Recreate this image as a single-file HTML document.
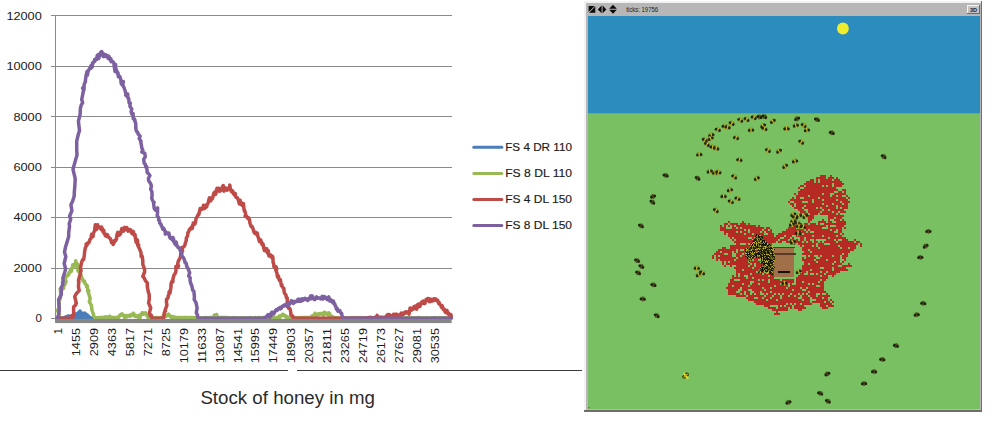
<!DOCTYPE html>
<html><head><meta charset="utf-8"><title>Stock of honey</title>
<style>
html,body{margin:0;padding:0;background:#fff;}
body{width:999px;height:423px;overflow:hidden;font-family:"Liberation Sans",sans-serif;}
svg{display:block;font-family:"Liberation Sans",sans-serif;}
</style></head><body>
<svg width="999" height="423" viewBox="0 0 999 423">
<rect width="999" height="423" fill="#fff"/>
<!-- chart -->
<g stroke="#8a8a8a" stroke-width="1" shape-rendering="crispEdges"><line x1="51" x2="451.6" y1="268.5" y2="268.5"/><line x1="51" x2="451.6" y1="217.5" y2="217.5"/><line x1="51" x2="451.6" y1="167.5" y2="167.5"/><line x1="51" x2="451.6" y1="116.5" y2="116.5"/><line x1="51" x2="451.6" y1="66.5" y2="66.5"/><line x1="51" x2="451.6" y1="15.5" y2="15.5"/>
<line x1="55.5" x2="55.5" y1="15" y2="323"/>
<line x1="51" x2="56" y1="318.5" y2="318.5"/>
</g>
<g fill="none" stroke-linejoin="round" stroke-linecap="round" stroke-width="3.5">
<polygon fill="#4a7ebb" stroke="#4a7ebb" stroke-width="1.5" points="65,318.5 68,317.2 71,317 73.5,315.8 76,314 78.5,312.6 80,312 81.5,312.8 83,313 85,314 87,315.8 89,317.2 91,318.5"/><polyline stroke="#4a7ebb" points="57.2,318.1 57.5,318.2 58.0,317.9 58.5,318.1 59.0,318.1 59.5,317.9 60.0,317.9 60.5,317.9 61.0,317.9 61.5,318.1 62.0,318.1 62.5,318.1 63.0,317.9 63.5,317.8 64.0,318.1 64.5,317.9 65.0,317.7 65.6,318.3 66.0,316.7 66.4,317.4 67.0,317.3 67.5,316.8 68.0,315.9 68.4,316.0 69.0,315.9 69.5,316.6 70.0,316.5 70.5,317.3 70.9,316.3 71.5,316.6 72.0,317.0 72.6,315.9 73.1,315.1 73.5,316.2 73.9,316.2 74.6,315.3 75.0,315.2 75.5,314.3 76.0,314.5 76.6,313.8 76.9,313.9 77.4,314.6 78.0,313.4 78.5,313.8 78.9,312.2 79.4,312.0 80.0,311.0 80.6,312.1 81.1,312.9 81.6,313.0 82.1,313.1 82.4,314.6 82.9,315.3 83.5,313.3 83.9,314.6 84.5,313.1 85.0,313.2 85.4,314.3 86.0,314.9 86.3,314.5 86.9,314.7 87.7,315.7 87.9,315.8 88.5,316.1 89.1,317.2 89.5,317.9 90.0,317.6 90.5,317.8 91.0,318.0 91.5,318.0 92.0,318.0 92.5,317.9 93.0,318.1 93.5,318.1 94.0,318.1 94.5,318.1 95.0,318.2"/>
<polyline stroke="#98b954" points="57.2,318.2 57.5,317.4 59.5,314.5 57.2,310.4 59.2,308.0 59.0,301.0 60.2,298.8 60.5,297.4 60.7,293.0 60.2,289.2 62.4,288.3 63.0,288.4 63.5,288.5 63.7,286.3 64.4,285.2 66.1,281.8 65.3,279.0 66.2,276.5 66.5,275.7 67.4,275.7 68.1,275.6 68.9,272.9 69.1,273.7 69.6,272.5 70.3,270.4 70.9,269.0 71.3,271.3 71.8,269.3 72.7,266.2 72.7,264.7 73.5,267.2 73.9,264.8 74.5,265.4 75.4,266.0 75.7,260.8 76.3,264.3 77.3,264.9 77.5,263.9 77.8,265.1 78.1,268.5 77.8,270.4 79.1,272.1 79.8,272.1 80.9,275.0 81.4,277.0 81.4,278.4 82.4,278.5 82.7,280.1 83.8,281.6 84.4,281.0 84.7,282.1 84.8,283.3 86.3,284.7 86.5,286.7 87.2,285.7 87.5,288.0 87.7,291.3 88.8,290.7 88.4,292.4 90.0,297.9 90.1,299.1 89.3,301.6 91.5,305.5 91.6,307.8 91.9,310.0 92.7,312.3 93.6,314.6 93.6,315.7 94.2,316.9 94.9,317.7 95.5,317.7 96.0,317.8 96.6,317.7 97.1,317.7 97.7,317.7 98.2,317.6 98.8,317.6 99.3,317.6 99.9,317.5 100.4,317.6 101.0,317.7 101.5,317.7 102.1,317.6 102.6,317.3 103.2,317.6 103.7,317.6 104.3,317.3 104.8,317.3 105.5,316.8 105.9,317.4 106.5,317.0 107.0,317.7 107.7,317.1 108.1,316.8 108.7,316.8 109.2,318.0 109.8,316.2 110.4,317.7 110.9,318.3 111.4,317.4 112.0,317.6 112.5,317.5 113.1,317.5 113.6,317.6 114.2,317.5 114.7,317.5 115.3,317.6 115.8,317.5 116.4,317.6 116.9,317.5 117.6,317.7 118.1,318.3 118.6,317.2 119.3,315.8 119.6,315.5 120.3,315.7 120.8,314.5 121.2,314.8 122.0,313.9 122.5,314.5 123.0,315.2 123.6,315.4 124.1,316.4 124.7,317.6 125.2,316.9 125.7,315.6 126.3,316.6 126.8,317.0 127.4,315.5 127.9,316.3 128.5,315.6 129.0,315.5 129.5,315.2 130.1,316.3 130.7,315.0 131.4,314.5 132.0,314.8 132.2,315.5 133.0,315.6 133.4,313.2 134.0,314.2 134.5,314.7 135.1,315.7 135.6,316.5 136.3,315.5 136.9,316.0 137.3,316.0 137.9,316.4 138.4,317.7 139.0,316.4 139.6,315.0 140.0,317.6 140.5,315.0 141.1,314.3 141.7,314.3 142.2,312.7 142.8,313.8 143.1,314.4 143.9,313.2 144.3,313.5 144.8,313.9 145.5,312.8 146.1,314.7 146.7,314.5 147.1,314.7 147.5,316.5 148.3,317.9 148.8,317.3 149.4,317.6 149.9,317.8 150.5,317.7 151.0,317.7 151.6,317.8 152.1,317.8 152.7,317.7 153.2,317.8 153.8,317.9 154.3,317.7 154.9,317.7 155.4,317.7 156.0,317.6 156.5,317.6 157.1,317.5 157.6,317.7 158.2,317.7 158.7,317.7 159.3,317.8 159.8,317.7 160.4,317.7 160.9,317.5 161.5,317.5 162.0,317.7 162.6,317.6 163.1,317.4 163.6,315.3 164.2,316.6 164.9,315.8 165.4,316.5 166.0,316.3 166.4,315.3 166.9,315.0 167.6,315.5 168.1,315.0 168.8,314.2 169.2,315.4 169.8,315.7 170.3,315.9 170.9,317.1 171.4,317.3 172.0,318.0 172.5,317.2 173.0,316.6 173.6,316.7 174.2,317.5 174.7,317.3 175.2,317.3 175.8,317.4 176.3,317.4 176.9,317.5 177.4,317.7 178.0,317.6 178.5,317.5 179.1,317.5 179.6,317.5 180.2,317.5 180.7,317.7 181.3,317.6 181.8,317.7 182.4,317.7 182.9,317.5 183.5,317.5 184.0,317.5 184.6,317.4 185.1,317.6 185.7,317.6 186.2,317.6 186.8,317.5 187.3,317.6 187.9,317.6 188.4,317.8 189.0,317.7 189.5,317.6 190.1,317.7 190.6,317.6 191.2,317.6 191.7,317.6 192.3,317.7 192.8,317.6 193.4,317.6 193.9,317.7 194.5,317.7 195.0,317.6 195.6,317.6 196.1,317.6 196.7,317.6 197.2,317.8 197.8,317.8 198.3,317.8 198.9,317.7 199.4,317.8 200.0,317.8 200.5,317.7 201.1,317.7 201.6,318.0 202.2,317.8 202.7,317.7 203.3,317.8 203.8,317.8 204.4,317.7 204.9,317.8 205.5,317.6 206.0,317.6 206.6,317.5 207.1,317.8 207.7,317.7 208.2,317.9 208.8,317.8 209.3,317.7 209.9,317.6 210.4,317.5 211.0,317.5 211.5,317.7 212.1,317.5 212.6,317.3 213.2,317.3 213.7,317.6 214.3,315.1 214.9,314.9 215.4,315.2 216.1,315.9 216.6,314.5 217.0,316.1 217.6,317.5 218.1,317.7 218.7,317.6 219.2,317.5 219.8,317.6 220.3,317.7 220.9,317.5 221.4,317.4 222.0,317.5 222.5,317.6 223.1,317.6 223.6,317.4 224.2,317.4 224.7,317.6 225.3,317.7 225.8,317.6 226.4,317.6 226.9,317.9 227.5,317.7 228.0,317.6 228.6,317.6 229.1,317.7 229.7,317.7 230.2,317.7 230.8,317.7 231.3,317.7 231.9,317.8 232.4,317.7 233.0,317.8 233.5,317.6 234.1,317.8 234.6,317.8 235.2,317.8 235.7,318.0 236.3,317.8 236.8,317.7 237.4,317.8 237.9,317.9 238.5,318.0 239.0,317.9 239.6,317.9 240.1,318.0 240.7,317.9 241.2,317.7 241.8,317.7 242.3,317.7 242.9,317.8 243.4,317.7 244.0,317.9 244.5,317.8 245.1,317.9 245.6,317.8 246.2,317.9 246.7,317.8 247.3,317.9 247.8,318.0 248.4,318.0 248.9,317.9 249.5,317.7 250.0,317.6 250.6,317.4 251.1,317.8 251.7,317.9 252.2,317.9 252.8,317.7 253.3,318.0 253.9,317.8 254.4,317.8 255.0,317.6 255.5,317.6 256.1,317.8 256.6,317.9 257.2,317.7 257.7,317.7 258.3,317.8 258.8,317.6 259.4,317.7 259.9,317.6 260.5,317.7 261.0,317.7 261.6,317.8 262.1,317.7 262.7,317.6 263.2,317.6 263.8,317.6 264.3,317.6 264.9,317.6 265.4,317.6 266.0,317.7 266.5,317.7 267.1,317.7 267.6,317.8 268.2,317.8 268.7,317.6 269.3,317.6 269.8,317.8 270.4,317.8 270.9,317.8 271.5,317.8 272.0,317.5 272.6,317.6 273.1,317.7 273.7,317.6 274.2,317.5 274.8,317.6 275.3,317.6 275.9,317.8 276.4,317.8 277.0,317.6 277.5,317.5 278.1,317.4 278.5,316.9 279.0,316.2 279.7,318.1 280.3,315.8 280.9,315.4 281.5,315.7 281.9,315.8 282.5,314.3 283.1,314.3 283.6,314.9 284.3,315.6 284.8,315.3 285.3,315.7 285.8,316.8 286.4,318.3 286.9,316.6 287.4,317.4 288.0,318.3 288.5,317.4 289.1,317.7 289.6,317.9 290.2,317.9 290.7,317.9 291.3,318.0 291.8,317.8 292.4,317.8 292.9,317.7 293.5,317.7 294.0,317.8 294.6,317.8 295.1,317.9 295.7,317.8 296.2,317.6 296.8,317.8 297.3,317.9 297.9,317.8 298.4,317.7 299.0,317.6 299.5,317.6 300.1,317.8 300.6,317.8 301.2,317.7 301.7,317.7 302.3,317.7 302.8,317.6 303.4,317.6 303.9,317.6 304.5,317.5 305.0,317.5 305.6,317.4 306.1,317.5 306.7,317.7 307.2,317.5 307.8,317.5 308.3,317.4 308.9,317.5 309.4,317.5 310.0,317.5 310.5,317.2 311.1,318.3 311.6,317.4 312.1,315.8 312.8,315.5 313.2,316.5 313.9,316.8 314.4,315.9 315.0,313.3 315.5,315.0 316.0,315.9 316.6,315.4 317.1,314.7 317.7,314.0 318.3,314.8 318.8,313.9 319.3,314.7 319.9,313.8 320.4,313.5 321.0,313.5 321.6,313.5 322.1,313.5 322.7,314.5 323.1,315.6 323.7,313.5 324.3,312.2 324.8,314.1 325.4,313.2 326.0,313.1 326.6,313.4 327.1,314.4 327.5,313.3 328.2,314.8 328.6,315.5 329.2,312.9 329.7,314.3 330.4,315.2 330.9,316.3 331.5,316.6 332.0,316.3 332.5,316.5 333.1,317.4 333.6,317.3 334.2,317.4 334.7,317.8 335.3,317.8 335.8,317.7 336.4,317.8 336.9,317.8 337.5,317.7 338.0,317.8 338.6,317.7 339.1,317.6 339.7,317.8 340.2,317.9 340.8,317.9 341.3,317.8 341.9,317.7 342.4,317.8 343.0,317.8 343.5,317.9 344.1,318.0 344.6,317.9 345.2,317.8 345.7,317.8 346.3,317.7 346.8,317.8 347.4,317.9 347.9,317.9 348.5,317.9 349.0,318.0 349.6,317.8 350.1,317.8 350.7,317.8 351.2,317.8 351.8,317.6 352.3,317.7 352.9,317.6 353.4,317.7 354.0,317.7 354.5,317.8 355.1,317.6 355.6,317.7 356.2,317.8 356.7,317.6 357.3,317.9 357.8,317.9 358.4,317.7 358.9,317.9 359.5,318.0 360.0,317.6 360.6,317.7 361.1,317.7 361.7,317.8 362.2,317.7 362.8,317.7 363.3,317.8 363.9,317.6 364.4,317.7 365.0,317.9 365.5,317.9 366.1,317.9 366.6,318.0 367.2,317.9 367.7,317.8 368.3,317.8 368.8,317.8 369.4,318.0 369.9,317.9 370.5,317.9 371.0,317.9 371.6,318.0 372.1,317.7 372.7,317.7 373.2,317.8 373.8,317.9 374.3,317.7 374.9,317.6 375.4,317.8 376.0,317.9 376.5,317.8 377.1,317.8 377.6,317.7 378.2,317.7 378.7,317.7 379.3,317.8 379.8,317.8 380.4,317.9 380.9,317.7 381.5,317.6 382.0,317.8 382.6,317.7 383.1,317.7 383.7,317.8 384.2,317.7 384.8,317.6 385.3,317.8 385.9,317.5 386.4,317.8 387.0,317.6 387.5,317.8 388.1,317.8 388.6,317.8 389.2,317.8 389.7,317.8 390.3,317.7 390.8,317.8 391.4,317.8 391.9,317.8 392.5,317.8 393.0,317.8 393.6,317.9 394.1,317.9 394.7,317.8 395.2,317.7 395.8,317.7 396.3,317.7 396.9,317.9 397.4,317.9 398.0,317.8 398.5,317.8 399.1,317.7 399.6,317.8 400.2,317.7 400.7,317.7 401.3,317.8 401.8,317.9 402.4,317.8 402.9,317.7 403.5,317.6 404.0,317.8 404.6,317.9 405.1,318.0 405.7,317.8 406.2,317.8 406.8,317.7 407.3,317.9 407.9,317.7 408.4,317.8 409.0,318.0 409.5,317.8 410.1,317.6 410.6,317.7 411.2,317.6 411.7,317.8 412.3,317.8 412.8,317.7 413.4,317.7 413.9,317.9 414.5,317.8 415.0,317.8 415.6,318.0 416.1,317.8 416.7,317.7 417.2,317.9 417.8,317.9 418.3,317.6 418.9,317.6 419.4,317.6 420.0,317.7 420.5,317.8 421.1,317.7 421.6,317.9 422.2,318.0 422.7,317.9 423.3,317.8 423.8,317.8 424.4,317.9 424.9,317.9 425.5,318.0 426.0,317.6 426.6,317.7 427.1,317.7 427.7,317.7 428.2,317.8 428.8,318.0 429.3,317.9 429.9,317.9 430.4,317.8 431.0,317.8 431.5,318.0 432.1,317.8 432.6,317.8 433.2,318.0 433.7,318.2 434.3,317.9 434.8,317.7 435.4,317.6 435.9,317.7 436.5,317.8 437.0,317.8 437.6,317.9 438.1,317.8 438.7,317.8 439.2,317.6 439.8,317.7 440.3,317.8 440.9,317.6 441.4,317.7 442.0,317.9 442.5,317.8 443.1,317.8 443.6,317.8 444.2,317.7 444.7,317.8 445.3,317.7 445.8,317.8 446.4,317.8 446.9,317.8 447.5,317.7 448.0,317.7 448.6,318.0 449.1,317.9 449.7,317.8 450.2,317.7 450.8,317.9 451.3,317.8"/>
<polyline stroke="#be4b48" points="57.2,318.3 57.5,318.3 58.1,318.3 58.6,318.1 59.2,318.3 59.7,318.1 60.3,318.3 60.8,318.3 61.4,318.3 61.9,318.3 62.5,318.3 63.0,318.3 63.6,318.3 64.1,318.3 64.7,318.3 65.2,318.3 65.8,318.2 66.3,318.2 66.9,318.3 67.4,318.3 68.0,318.3 68.5,318.3 69.1,318.2 69.6,318.3 70.2,318.2 70.7,318.3 71.3,318.3 71.8,317.7 71.9,315.5 73.5,316.8 73.6,312.1 73.6,307.0 75.7,305.0 75.4,304.9 76.3,303.1 74.7,296.5 76.2,293.8 79.2,290.6 78.4,286.4 78.9,281.3 78.4,280.8 79.4,276.6 80.4,274.0 80.6,271.5 81.1,270.8 80.4,268.0 81.7,262.1 82.6,259.7 83.7,259.6 84.3,255.0 84.5,252.9 84.6,251.9 85.3,248.0 86.3,246.0 86.1,244.0 87.2,244.7 87.7,243.0 88.3,243.2 89.4,241.7 89.4,240.7 90.3,238.9 91.0,238.5 91.2,236.8 91.6,234.3 91.9,235.9 93.1,235.9 93.0,236.6 93.4,233.2 94.6,230.8 94.8,228.9 95.3,224.7 96.0,226.5 96.4,229.7 96.9,228.3 97.7,224.8 98.3,227.8 98.8,227.3 99.3,227.1 99.9,227.4 100.4,228.1 101.1,229.3 101.6,226.9 102.0,228.4 102.7,229.3 103.0,231.9 103.8,230.3 104.1,233.4 104.8,234.1 105.3,235.8 105.4,233.9 106.6,235.6 107.0,236.5 107.4,234.6 108.0,236.2 108.7,237.4 109.2,237.6 109.9,238.5 110.4,238.7 111.0,240.5 111.5,242.7 111.8,242.1 112.4,241.1 113.1,244.5 113.7,243.2 114.2,242.3 114.5,241.4 115.1,240.1 115.6,240.7 116.6,238.7 116.6,237.6 117.0,234.6 117.8,232.3 118.7,232.6 119.5,235.2 119.6,233.3 120.5,234.0 120.7,232.2 121.3,230.7 121.8,228.6 122.5,228.6 123.0,231.2 123.6,231.1 124.1,228.2 124.7,227.4 125.2,229.8 125.8,228.0 126.3,229.1 126.9,227.6 127.4,228.9 128.0,231.1 128.5,230.9 129.0,229.9 129.6,229.7 130.2,229.5 130.6,230.1 131.2,232.4 132.2,233.6 132.3,233.3 132.8,231.3 133.6,232.1 133.7,234.6 134.9,235.7 135.1,234.7 135.3,237.7 136.2,242.3 136.5,239.2 137.6,240.5 137.6,245.0 138.8,244.9 138.0,245.8 139.3,248.4 140.4,251.0 141.0,252.6 141.2,256.6 142.2,256.3 142.8,260.8 142.8,264.3 143.5,266.3 144.6,269.4 144.6,272.0 142.8,276.4 144.2,278.0 145.5,280.9 147.3,282.9 147.3,286.7 148.3,291.8 149.2,294.8 149.3,299.1 148.6,303.0 150.7,307.8 149.4,312.9 150.4,315.9 151.4,315.3 152.1,318.2 152.7,318.3 153.2,318.3 153.8,318.3 154.3,318.2 154.9,318.2 155.4,318.3 156.0,318.3 156.5,318.3 157.1,318.3 157.6,318.3 158.2,318.2 158.7,318.3 159.3,318.3 159.8,318.3 160.4,318.3 160.9,318.1 161.5,318.2 162.0,318.3 162.6,318.3 163.4,318.3 163.9,316.2 164.3,312.6 165.5,311.0 164.9,310.7 166.9,305.4 166.5,302.3 166.5,299.4 167.8,298.2 168.2,296.7 168.2,295.7 170.2,292.4 168.8,292.5 170.4,290.4 171.0,286.9 171.0,284.0 171.9,281.4 173.1,281.2 172.5,282.2 173.0,278.7 174.0,275.0 174.9,273.9 175.8,272.0 176.0,269.6 175.8,266.4 177.4,266.4 177.8,267.3 178.5,266.0 177.7,263.9 178.3,261.1 179.3,259.3 179.9,258.3 180.7,255.5 180.7,253.7 181.3,251.3 182.6,251.2 182.0,247.5 183.0,247.1 184.0,246.6 184.9,245.1 185.2,243.4 186.3,240.3 186.3,238.2 187.0,237.0 187.6,235.8 187.9,233.5 187.9,232.6 188.9,231.4 189.4,229.5 189.8,229.8 190.8,227.9 191.0,227.6 191.3,228.7 192.3,228.5 192.5,225.2 193.5,224.7 193.2,223.0 194.0,224.6 195.0,223.7 195.6,221.5 196.1,218.5 197.1,216.7 197.2,216.8 197.7,215.6 198.5,214.1 198.8,214.5 199.5,211.5 200.2,208.5 200.5,208.9 201.1,208.6 201.5,209.4 202.2,208.2 202.8,208.1 203.5,205.2 203.9,208.7 204.7,208.4 205.0,205.4 205.5,205.9 206.0,207.3 206.8,206.6 207.1,204.2 207.6,203.9 207.9,203.8 208.8,200.1 209.5,197.7 209.3,198.0 210.2,200.0 210.8,200.8 211.4,198.3 212.1,198.9 212.6,198.2 213.2,195.6 213.8,193.3 214.5,192.3 214.8,192.8 215.4,194.5 215.9,193.8 216.5,189.8 217.0,188.3 217.5,191.0 218.2,190.8 218.8,188.2 219.1,189.6 219.8,191.2 220.3,190.4 220.8,188.8 221.6,190.0 222.1,187.9 222.6,186.3 223.2,185.5 223.6,189.4 224.0,191.1 224.7,187.7 225.3,187.7 225.8,188.2 226.4,189.2 227.0,190.2 227.6,189.9 228.0,188.7 228.5,188.0 229.4,187.3 229.8,185.1 230.3,188.6 230.6,189.5 231.1,190.9 231.5,191.7 232.4,190.7 233.0,191.5 233.5,193.8 234.1,194.4 234.7,193.4 235.3,193.6 235.4,196.3 236.1,197.2 237.0,197.8 237.4,197.8 238.0,199.5 238.3,199.8 239.3,203.8 239.6,201.4 240.1,200.2 240.5,204.3 241.3,203.8 241.8,203.0 242.3,205.6 243.4,203.5 243.8,207.2 244.0,209.3 244.3,210.9 244.9,211.0 245.8,214.9 245.1,216.1 246.9,216.5 247.2,218.0 248.5,217.7 248.5,219.1 248.9,218.7 249.5,219.7 249.9,222.9 250.4,224.5 251.1,226.4 251.2,225.8 252.3,226.8 252.4,227.3 253.2,229.2 253.7,231.4 254.6,233.1 255.4,233.5 255.9,232.4 256.0,234.1 256.6,233.9 257.2,233.0 257.8,236.3 258.6,238.2 259.0,240.0 259.4,241.4 260.4,239.7 260.7,240.0 261.5,242.2 261.6,243.6 262.3,244.9 262.8,243.7 263.3,245.1 263.6,247.6 264.4,250.5 264.6,247.9 265.5,250.8 266.3,250.5 266.8,248.8 267.2,252.5 267.6,251.5 268.4,250.9 268.5,254.0 269.0,256.1 269.5,256.0 270.5,255.4 270.6,255.0 271.7,257.6 272.3,256.2 272.9,257.3 273.1,262.4 273.9,264.5 273.8,266.6 274.9,267.4 276.1,266.9 276.6,269.9 275.7,269.6 277.0,273.3 277.4,276.9 278.5,276.1 278.8,278.7 279.2,279.8 279.5,280.5 280.4,279.7 280.8,282.3 281.4,285.6 281.9,284.5 282.0,286.2 283.2,287.9 283.8,288.2 284.2,292.2 284.8,293.6 285.8,294.7 286.4,297.6 287.2,297.9 287.3,303.4 287.9,302.9 288.0,302.5 288.0,306.0 288.5,308.2 289.9,308.5 290.3,309.9 290.9,313.4 290.7,314.5 291.8,315.3 292.4,316.7 292.9,316.1 293.4,318.2 294.0,317.9 294.6,318.3 295.1,318.2 295.7,318.3 296.2,318.3 296.8,318.3 297.3,318.3 297.9,318.3 298.4,318.3 299.0,318.3 299.5,318.3 300.1,318.3 300.6,318.1 301.2,318.1 301.7,318.3 302.3,318.3 302.8,318.3 303.4,318.3 303.9,318.3 304.5,318.3 305.0,318.3 305.6,318.3 306.1,318.3 306.7,318.3 307.2,318.3 307.8,318.3 308.3,318.3 308.9,318.3 309.4,318.2 310.0,318.3 310.5,318.2 311.1,318.2 311.6,318.3 312.2,318.3 312.7,318.3 313.3,318.3 313.8,318.3 314.4,318.3 314.9,318.3 315.5,318.3 316.0,318.3 316.6,318.1 317.1,318.1 317.7,318.3 318.2,318.2 318.8,318.2 319.3,318.2 319.9,318.3 320.4,318.2 321.0,318.3 321.5,318.3 322.1,318.3 322.6,318.2 323.2,318.2 323.7,318.1 324.3,318.3 324.8,318.3 325.4,318.2 325.9,318.2 326.5,318.3 327.0,318.3 327.6,318.3 328.1,318.3 328.7,318.3 329.2,318.3 329.8,318.3 330.3,318.2 330.9,318.3 331.4,318.3 332.0,318.3 332.5,318.3 333.1,318.2 333.6,318.3 334.2,318.3 334.7,318.3 335.3,318.0 335.8,318.3 336.4,318.3 336.9,318.2 337.5,318.2 338.0,318.2 338.6,318.2 339.1,318.3 339.7,318.2 340.2,318.3 340.8,318.2 341.3,318.3 341.9,318.3 342.4,318.3 343.0,318.3 343.5,318.3 344.1,318.3 344.6,318.3 345.2,318.2 345.7,318.3 346.3,318.3 346.8,318.3 347.4,318.3 347.9,318.3 348.5,318.2 349.0,318.3 349.6,318.3 350.1,318.3 350.7,318.3 351.2,318.3 351.8,318.1 352.3,318.2 352.9,318.2 353.4,318.3 354.0,318.3 354.5,318.2 355.1,318.3 355.6,318.2 356.2,318.1 356.7,318.2 357.3,318.3 357.8,318.3 358.4,318.3 358.9,318.3 359.5,318.3 360.0,318.3 360.6,318.2 361.1,318.3 361.7,318.3 362.2,318.3 362.8,318.3 363.3,318.3 363.9,318.3 364.4,318.3 365.0,318.3 365.5,318.1 366.1,318.0 366.6,318.0 367.2,317.9 367.7,317.7 368.3,317.7 368.8,317.5 369.4,317.5 369.9,317.3 370.5,317.4 371.0,317.4 371.6,317.6 372.1,317.7 372.7,318.0 373.2,317.9 373.8,317.9 374.3,317.7 374.9,317.4 375.4,317.4 376.0,318.0 376.6,316.6 377.1,315.4 377.6,317.2 378.2,318.2 378.7,318.1 379.3,317.4 379.8,317.1 380.5,318.3 380.9,318.3 381.5,317.3 382.0,317.3 382.6,317.6 383.1,317.7 383.7,317.4 384.2,317.3 384.8,317.9 385.4,317.2 385.9,317.7 386.4,316.1 387.0,315.4 387.6,314.6 388.1,315.9 388.6,316.1 389.2,314.5 389.7,315.8 390.3,315.7 390.8,315.6 391.4,317.2 391.9,317.3 392.5,316.6 393.1,315.4 393.6,314.2 394.1,314.3 394.7,314.6 395.2,316.3 395.8,314.6 396.4,314.1 396.9,314.8 397.5,315.3 398.0,316.1 398.6,316.5 399.1,315.1 399.7,316.5 400.3,316.0 400.8,313.9 401.3,313.0 401.9,313.4 402.4,313.6 403.0,314.6 403.5,313.3 404.1,312.8 404.6,312.4 405.1,313.3 405.7,311.9 406.2,313.0 406.6,312.1 407.1,311.8 407.8,312.3 408.4,312.1 408.9,314.2 409.7,311.1 410.0,308.1 410.5,308.1 411.4,310.2 411.6,308.7 412.4,309.7 412.8,308.8 413.1,308.9 414.1,306.5 414.5,307.9 415.1,308.6 415.6,306.0 416.2,307.3 416.8,309.2 417.4,306.7 417.8,304.4 418.3,304.1 419.0,304.3 419.5,305.5 419.8,306.6 420.6,304.3 421.1,303.4 421.6,302.0 422.1,302.2 422.9,303.3 423.3,300.9 423.8,302.5 424.4,303.5 424.9,303.6 425.5,301.6 426.1,299.6 426.6,300.3 427.1,299.7 427.7,298.5 428.3,299.1 428.8,298.6 429.3,301.7 429.9,301.6 430.5,301.3 431.0,299.2 431.5,301.1 432.1,300.3 432.6,300.9 433.2,299.4 433.8,300.4 434.3,298.7 434.9,299.5 435.4,300.1 436.0,299.0 436.5,300.1 437.0,300.2 437.6,300.2 438.0,301.6 438.5,303.1 439.1,302.4 439.6,304.2 440.5,305.2 440.8,305.5 441.4,307.3 442.0,305.5 443.1,308.3 443.2,309.4 443.8,308.8 444.3,309.3 444.9,311.1 445.3,312.3 445.9,312.5 446.6,310.9 447.0,310.4 447.3,312.2 447.9,313.8 448.6,313.1 449.2,314.6 449.6,315.3 450.4,315.4 450.9,314.5 451.3,316.6"/>
<polyline stroke="#7d60a0" points="57.2,318.3 57.5,317.8 58.2,316.2 59.2,311.5 59.0,305.6 58.6,299.6 61.2,294.7 61.5,288.7 61.0,288.1 62.8,284.7 62.5,282.7 63.1,282.0 62.9,278.1 64.9,271.7 65.6,268.9 64.2,263.5 65.8,256.5 64.5,252.2 65.6,246.7 66.8,242.9 68.7,236.5 68.7,232.9 69.5,226.2 69.2,223.7 70.7,219.1 69.6,216.2 71.9,210.8 70.9,204.7 72.7,201.0 74.2,196.0 74.3,192.7 74.9,185.1 75.2,178.7 73.0,169.3 75.1,161.6 77.0,154.9 76.7,150.0 76.7,141.2 78.4,134.0 79.5,130.5 78.4,121.1 80.1,114.5 80.4,108.4 81.3,104.9 82.7,102.8 81.7,99.5 83.2,92.2 84.0,86.3 82.6,88.3 84.0,89.7 84.2,84.0 85.4,81.9 85.4,80.6 86.1,75.3 87.0,71.6 87.2,74.2 87.4,75.3 88.1,70.9 88.7,70.5 89.1,69.2 90.3,67.4 91.1,65.5 90.8,68.3 92.3,66.7 92.3,64.6 92.4,63.1 92.9,63.6 93.6,61.7 94.7,61.4 94.7,59.3 95.3,60.1 96.2,59.1 96.5,59.6 97.2,55.9 97.4,55.3 98.3,54.5 98.7,58.5 99.3,56.2 99.8,55.4 100.5,52.6 100.8,52.6 101.6,51.5 102.2,53.5 102.7,52.8 103.2,56.4 103.8,54.0 104.4,56.1 104.9,55.7 105.3,56.5 106.1,54.8 106.6,55.7 106.9,56.5 107.5,55.9 108.1,58.4 108.8,56.2 109.4,57.7 109.9,59.1 110.2,60.1 110.9,58.7 111.2,61.8 112.0,61.0 112.3,61.3 113.0,61.7 113.9,63.2 114.1,65.7 115.0,71.4 115.6,64.4 115.6,67.9 116.9,71.1 117.2,73.1 117.3,72.3 118.0,72.9 118.3,76.7 119.3,76.0 119.9,76.5 120.1,77.6 120.8,79.6 121.2,83.5 121.3,81.2 121.8,84.5 123.3,81.5 122.8,85.5 123.9,87.2 125.2,91.0 125.5,92.8 126.3,94.0 125.7,95.2 127.2,96.3 127.7,94.0 127.9,98.0 128.7,98.3 129.1,102.9 130.4,103.2 129.9,105.0 130.0,106.5 131.8,109.1 131.1,111.6 131.9,114.1 133.1,113.5 133.2,118.8 133.5,118.3 135.0,120.1 134.1,118.7 135.8,123.8 135.8,128.6 136.5,131.3 137.7,132.4 138.1,134.0 138.5,134.3 140.1,136.1 139.2,138.6 141.0,141.3 140.7,141.8 141.2,144.2 141.9,148.2 142.9,150.4 141.8,152.0 144.7,153.1 145.3,156.6 143.7,159.3 144.2,163.4 145.3,164.2 145.8,167.1 146.7,166.9 147.2,172.7 147.7,172.7 149.9,175.5 148.4,178.5 148.7,180.8 150.7,183.8 151.4,186.0 150.7,189.1 151.9,191.9 152.1,195.5 151.7,198.4 153.0,201.4 154.1,202.3 153.5,202.5 154.2,208.4 155.4,210.1 157.6,207.9 157.5,213.1 157.2,216.0 157.8,216.5 158.7,217.7 158.6,220.0 159.5,220.6 159.6,222.9 160.5,223.9 161.2,224.5 161.3,226.1 162.2,227.0 162.8,229.3 163.1,229.3 163.3,227.9 164.2,229.3 165.4,232.6 165.3,234.1 165.7,231.8 166.6,233.2 166.9,233.2 167.4,233.6 168.2,232.9 168.9,233.0 169.3,235.2 169.7,237.2 170.4,238.3 170.7,237.5 171.2,238.3 172.3,239.6 172.5,240.1 173.0,237.5 173.6,239.1 174.0,241.9 174.8,243.7 174.8,242.8 175.9,245.1 176.2,242.1 177.0,246.1 177.7,246.5 178.0,247.3 178.3,247.4 179.2,247.6 179.7,249.3 180.7,251.1 180.5,251.1 181.9,254.0 181.7,254.6 182.1,255.9 182.0,256.4 183.3,257.5 184.3,259.6 184.4,259.7 185.1,262.8 186.1,262.9 186.7,265.4 186.5,266.0 187.8,267.9 188.3,269.4 189.7,272.8 188.6,276.0 188.6,275.9 190.2,277.9 190.0,280.0 190.5,282.8 191.8,285.8 192.5,289.1 192.7,290.3 193.8,291.1 194.4,296.2 194.2,299.5 196.1,302.9 197.1,308.1 196.3,312.6 197.6,315.1 197.4,316.5 197.8,317.1 198.3,318.0 198.9,318.1 199.4,318.3 200.0,318.3 200.5,318.3 201.1,318.3 201.6,318.2 202.2,318.3 202.7,318.3 203.3,318.3 203.8,318.3 204.4,318.1 204.9,318.3 205.5,318.3 206.0,318.3 206.6,318.3 207.1,318.2 207.7,318.2 208.2,318.2 208.8,318.3 209.3,318.3 209.9,318.3 210.4,318.3 211.0,318.1 211.5,318.2 212.1,318.3 212.6,318.3 213.2,318.3 213.7,318.2 214.3,318.2 214.8,318.3 215.4,318.3 215.9,318.3 216.5,318.3 217.0,318.2 217.6,318.3 218.1,318.3 218.7,318.1 219.2,318.2 219.8,318.3 220.3,318.3 220.9,318.2 221.4,318.3 222.0,318.3 222.5,318.3 223.1,318.3 223.6,318.2 224.2,318.1 224.7,318.2 225.3,318.3 225.8,318.3 226.4,318.3 226.9,318.3 227.5,318.3 228.0,318.3 228.6,318.3 229.1,318.3 229.7,318.2 230.2,318.2 230.8,318.2 231.3,318.2 231.9,318.3 232.4,318.3 233.0,318.3 233.5,318.1 234.1,318.3 234.6,318.3 235.2,318.2 235.7,318.3 236.3,318.3 236.8,318.3 237.4,318.1 237.9,318.1 238.5,318.3 239.0,318.2 239.6,318.2 240.1,318.2 240.7,318.3 241.2,318.3 241.8,318.3 242.3,318.3 242.9,318.3 243.4,318.3 244.0,318.3 244.5,318.3 245.1,318.3 245.6,318.3 246.2,318.2 246.7,318.1 247.3,318.2 247.8,318.3 248.4,318.1 248.9,318.1 249.5,318.3 250.0,318.3 250.6,318.3 251.1,318.2 251.7,318.3 252.2,318.3 252.8,318.3 253.3,318.2 253.9,318.3 254.4,318.3 255.0,318.3 255.5,318.3 256.1,318.1 256.6,318.2 257.2,318.3 257.7,318.3 258.3,318.3 258.8,318.3 259.4,318.3 259.9,318.3 260.5,318.3 261.0,318.3 261.6,318.3 262.1,318.2 262.7,318.2 263.2,318.2 263.8,318.0 264.3,317.8 264.9,317.5 265.5,318.2 266.0,317.3 266.6,316.4 267.1,316.2 267.7,315.0 268.4,314.8 268.9,314.5 269.2,315.4 269.7,317.2 270.5,315.8 271.0,316.0 271.3,313.3 271.8,312.2 272.5,312.2 273.0,313.1 273.7,314.0 274.4,312.9 274.7,311.8 275.3,311.1 276.0,309.9 276.5,310.4 277.0,310.5 277.5,309.8 278.2,308.5 278.6,308.8 279.3,308.7 279.9,307.6 280.2,309.0 281.0,308.2 281.4,308.2 281.9,306.5 282.7,306.3 283.1,306.0 283.7,305.3 284.0,306.0 284.7,305.9 285.2,304.5 285.7,304.4 286.3,305.0 286.9,304.9 287.4,306.4 288.1,302.8 288.6,304.1 289.0,304.8 289.6,304.2 290.2,302.7 290.7,302.1 291.3,300.7 291.8,302.4 292.5,302.1 292.9,301.5 293.4,303.5 294.0,301.5 294.6,301.3 295.2,302.1 295.7,301.4 296.2,301.5 296.8,301.4 297.4,301.3 297.8,299.7 298.4,299.0 299.1,301.2 299.6,301.3 300.1,300.3 300.6,299.4 301.2,301.2 301.7,300.1 302.3,298.7 302.8,300.4 303.4,299.0 304.0,298.8 304.6,299.4 305.1,298.3 305.6,299.1 306.1,299.6 306.7,299.8 307.3,299.1 307.8,300.5 308.3,299.5 308.9,298.4 309.5,299.0 310.0,298.4 310.6,296.0 311.1,298.8 311.7,297.2 312.2,295.8 312.7,298.0 313.3,297.7 313.9,299.0 314.4,299.6 314.9,299.5 315.5,298.2 316.1,298.2 316.6,296.8 317.1,298.2 317.7,298.1 318.3,297.7 318.8,298.0 319.4,298.0 319.9,298.3 320.4,298.8 321.0,298.0 321.5,297.3 322.1,296.4 322.7,299.1 323.2,299.0 323.8,297.9 324.3,296.5 324.9,298.3 325.4,297.4 325.9,298.3 326.5,298.3 327.1,299.6 327.6,298.9 328.2,297.9 328.8,296.9 329.2,298.2 329.8,301.1 330.3,300.8 330.9,299.8 331.9,301.5 331.8,300.9 332.6,302.4 333.4,301.3 333.4,301.1 334.0,303.9 334.5,303.4 335.3,305.9 336.0,306.7 336.3,309.1 337.0,308.3 337.2,308.5 337.8,311.1 338.3,310.5 339.2,311.1 339.8,310.5 340.2,312.1 340.7,312.9 341.6,313.4 342.1,315.9 342.4,317.2 343.0,318.3 343.5,318.2 344.1,318.3 344.6,318.3 345.2,318.2 345.7,318.3 346.3,318.2 346.8,318.2 347.4,318.2 347.9,318.3 348.5,318.2 349.0,318.3 349.6,318.2 350.1,318.3 350.7,318.3 351.2,318.3 351.8,318.2 352.3,318.2 352.9,318.3 353.4,318.3 354.0,318.2 354.5,318.3 355.1,318.3 355.6,318.2 356.2,318.3 356.7,318.3 357.3,318.2 357.8,318.2 358.4,318.3 358.9,318.3 359.5,318.3 360.0,318.2 360.6,318.3 361.1,318.3 361.7,318.3 362.2,318.3 362.8,318.3 363.3,318.3 363.9,318.2 364.4,318.2 365.0,318.3 365.5,318.2 366.1,318.3 366.6,318.2 367.2,318.3 367.7,318.3 368.3,318.3 368.8,318.3 369.4,318.3 369.9,318.2 370.5,318.3 371.0,318.3 371.6,318.2 372.1,318.2 372.7,318.3 373.2,318.3 373.8,318.3 374.3,318.3 374.9,318.3 375.4,318.3 376.0,318.3 376.5,318.3 377.1,318.3 377.6,318.3 378.2,318.2 378.7,318.3 379.3,318.3 379.8,318.3 380.4,318.3 380.9,318.3 381.5,318.3 382.0,318.2 382.6,318.3 383.1,318.3 383.7,318.2 384.2,318.2 384.8,318.2 385.3,318.2 385.9,318.2 386.4,318.2 387.0,318.2 387.5,318.3 388.1,318.2 388.6,318.3 389.2,318.3 389.7,318.3 390.3,318.2 390.8,318.2 391.4,318.3 391.9,318.3 392.5,318.3 393.0,318.3 393.6,318.2 394.1,318.3 394.7,318.3 395.2,318.3 395.8,318.3 396.3,318.3 396.9,318.3 397.4,318.3 398.0,318.3 398.5,318.3 399.1,318.3 399.6,318.3 400.2,318.3 400.7,318.3 401.3,318.3 401.8,318.3 402.4,318.3 402.9,318.2 403.5,318.2 404.0,318.3 404.6,318.3 405.1,318.3 405.7,318.3 406.2,318.3 406.8,318.3 407.3,318.3 407.9,318.3 408.4,318.2 409.0,318.3 409.5,318.3 410.1,318.2 410.6,318.3 411.2,318.3 411.7,318.3 412.3,318.3 412.8,318.3 413.4,318.3 413.9,318.3 414.5,318.3 415.0,318.2 415.6,318.3 416.1,318.3 416.7,318.0 417.2,318.2 417.8,318.3 418.3,318.3 418.9,318.3 419.4,318.3 420.0,318.3 420.5,318.3 421.1,318.2 421.6,318.3 422.2,318.3 422.7,318.3 423.3,318.3 423.8,318.3 424.4,318.3 424.9,318.3 425.5,318.3 426.0,318.3 426.6,318.2 427.1,318.3 427.7,318.3 428.2,318.3 428.8,318.3 429.3,318.3 429.9,318.3 430.4,318.3 431.0,318.3 431.5,318.3 432.1,318.3 432.6,318.2 433.2,318.1 433.7,318.1 434.3,318.2 434.8,318.3 435.4,318.3 435.9,318.3 436.5,318.3 437.0,318.2 437.6,318.2 438.1,318.2 438.7,318.3 439.2,318.3 439.8,318.3 440.3,318.3 440.9,318.3 441.4,318.2 442.0,318.2 442.5,318.3 443.1,318.3 443.6,318.3 444.2,318.2 444.7,318.1 445.3,318.3 445.8,318.3 446.4,318.2 446.9,318.3 447.5,318.3 448.0,318.3 448.6,318.3 449.1,318.3 449.7,318.2 450.2,318.3 450.8,318.3 451.3,318.3"/>
</g>
<rect x="56" y="318.9" width="395.6" height="4.2" fill="#868686"/>
<g font-size="11.3" fill="#1a1a1a"><text x="35.4" y="322.4" textLength="6.4" lengthAdjust="spacingAndGlyphs">0</text><text x="13.4" y="271.9" textLength="28.4" lengthAdjust="spacingAndGlyphs">2000</text><text x="13.4" y="221.4" textLength="28.4" lengthAdjust="spacingAndGlyphs">4000</text><text x="13.4" y="171.0" textLength="28.4" lengthAdjust="spacingAndGlyphs">6000</text><text x="13.4" y="120.5" textLength="28.4" lengthAdjust="spacingAndGlyphs">8000</text><text x="6.4" y="70.0" textLength="35.4" lengthAdjust="spacingAndGlyphs">10000</text><text x="6.4" y="19.5" textLength="35.4" lengthAdjust="spacingAndGlyphs">12000</text><text transform="translate(62.40 334.6) rotate(-90)" textLength="6.6" lengthAdjust="spacingAndGlyphs">1</text><text transform="translate(80.31 356.2) rotate(-90)" textLength="28.2" lengthAdjust="spacingAndGlyphs">1455</text><text transform="translate(98.23 356.2) rotate(-90)" textLength="28.2" lengthAdjust="spacingAndGlyphs">2909</text><text transform="translate(116.15 356.2) rotate(-90)" textLength="28.2" lengthAdjust="spacingAndGlyphs">4363</text><text transform="translate(134.06 356.2) rotate(-90)" textLength="28.2" lengthAdjust="spacingAndGlyphs">5817</text><text transform="translate(151.97 356.2) rotate(-90)" textLength="28.2" lengthAdjust="spacingAndGlyphs">7271</text><text transform="translate(169.89 356.2) rotate(-90)" textLength="28.2" lengthAdjust="spacingAndGlyphs">8725</text><text transform="translate(187.81 363.3) rotate(-90)" textLength="35.3" lengthAdjust="spacingAndGlyphs">10179</text><text transform="translate(205.72 363.3) rotate(-90)" textLength="35.3" lengthAdjust="spacingAndGlyphs">11633</text><text transform="translate(223.63 363.3) rotate(-90)" textLength="35.3" lengthAdjust="spacingAndGlyphs">13087</text><text transform="translate(241.55 363.3) rotate(-90)" textLength="35.3" lengthAdjust="spacingAndGlyphs">14541</text><text transform="translate(259.46 363.3) rotate(-90)" textLength="35.3" lengthAdjust="spacingAndGlyphs">15995</text><text transform="translate(277.38 363.3) rotate(-90)" textLength="35.3" lengthAdjust="spacingAndGlyphs">17449</text><text transform="translate(295.29 363.3) rotate(-90)" textLength="35.3" lengthAdjust="spacingAndGlyphs">18903</text><text transform="translate(313.21 363.3) rotate(-90)" textLength="35.3" lengthAdjust="spacingAndGlyphs">20357</text><text transform="translate(331.12 363.3) rotate(-90)" textLength="35.3" lengthAdjust="spacingAndGlyphs">21811</text><text transform="translate(349.04 363.3) rotate(-90)" textLength="35.3" lengthAdjust="spacingAndGlyphs">23265</text><text transform="translate(366.95 363.3) rotate(-90)" textLength="35.3" lengthAdjust="spacingAndGlyphs">24719</text><text transform="translate(384.87 363.3) rotate(-90)" textLength="35.3" lengthAdjust="spacingAndGlyphs">26173</text><text transform="translate(402.78 363.3) rotate(-90)" textLength="35.3" lengthAdjust="spacingAndGlyphs">27627</text><text transform="translate(420.70 363.3) rotate(-90)" textLength="35.3" lengthAdjust="spacingAndGlyphs">29081</text><text transform="translate(438.61 363.3) rotate(-90)" textLength="35.3" lengthAdjust="spacingAndGlyphs">30535</text></g>
<g font-size="11.3" fill="#1a1a1a" stroke="#1a1a1a" stroke-width=".15"><line x1="473.8" x2="501.8" y1="147.3" y2="147.3" stroke="#4a7ebb" stroke-width="3" stroke-linecap="round"/><text x="505.2" y="151.2" textLength="66.8" lengthAdjust="spacingAndGlyphs">FS 4 DR 110</text><line x1="473.8" x2="501.8" y1="173.4" y2="173.4" stroke="#98b954" stroke-width="3" stroke-linecap="round"/><text x="505.2" y="177.3" textLength="66.8" lengthAdjust="spacingAndGlyphs">FS 8 DL 110</text><line x1="473.8" x2="501.8" y1="199.4" y2="199.4" stroke="#be4b48" stroke-width="3" stroke-linecap="round"/><text x="505.2" y="203.3" textLength="66.8" lengthAdjust="spacingAndGlyphs">FS 4 DL 150</text><line x1="473.8" x2="501.8" y1="225.5" y2="225.5" stroke="#7d60a0" stroke-width="3" stroke-linecap="round"/><text x="505.2" y="229.4" textLength="66.8" lengthAdjust="spacingAndGlyphs">FS 8 DL 150</text></g>
<!-- caption -->
<g stroke="#3c3c3c" stroke-width="1" shape-rendering="crispEdges"><line x1="0" x2="288" y1="370.5" y2="370.5"/><line x1="297" x2="581.5" y1="370.5" y2="370.5"/></g>
<text x="200.4" y="403.8" font-size="18.7" fill="#2b2b2b" textLength="174.6" lengthAdjust="spacingAndGlyphs">Stock of honey in mg</text>
<!-- NetLogo view -->
<g shape-rendering="crispEdges">
<rect x="584.0" y="1.0" width="398.0" height="410.6" fill="#6e6e6e"/>
<rect x="584.0" y="1.0" width="396.8" height="409.40000000000003" fill="#f2f2f2"/>
<rect x="585.8" y="2.8" width="395.0" height="407.6" fill="#b7b7b7"/>
<rect x="588" y="15.5" width="392" height="98" fill="#2c8cbe"/>
<rect x="588" y="114" width="392" height="294.8" fill="#79c062"/>
</g>
<rect x="588" y="113.3" width="392" height="2" fill="#79c062"/>
<circle cx="842.9" cy="28.5" r="5.9" fill="#eeee2e"/>
<!-- header icons -->
<g fill="#0a0a0a">
<path d="M588.6 5.9h6.2l-6.2 6.2zM595.3 6.6v6.2h-6.2z"/>
<path d="M601.6 5.6v7.6l-3.8-3.8zM602.6 5.6v7.6l3.8-3.8z"/>
<path d="M609.2 8.7h7.6l-3.8-4zM609.2 9.8h7.6l-3.8 4z"/>
</g>
<text x="626.2" y="12" font-size="7" fill="#222" textLength="32" lengthAdjust="spacingAndGlyphs">ticks: 19756</text>
<g shape-rendering="crispEdges"><rect x="967" y="4.8" width="12.6" height="9.6" fill="#6a6a6a"/><rect x="967" y="4.8" width="11.6" height="8.6" fill="#f4f4f4"/><rect x="968" y="5.8" width="10.6" height="7.6" fill="#c4c4c4"/></g>
<text x="969.9" y="11.8" font-size="5.8" font-weight="bold" fill="#222" textLength="7.1" lengthAdjust="spacingAndGlyphs">3D</text>
<!-- flower patch -->
<path d="M820 175.4h6v2h-6zM830 175.4h2v2h-2zM816 177.4h10v2h-10zM828 177.4h6v2h-6zM836 177.4h2v2h-2zM810 179.4h4v2h-4zM816 179.4h2v2h-2zM820 179.4h12v2h-12zM834 179.4h6v2h-6zM806 181.4h8v2h-8zM816 181.4h2v2h-2zM820 181.4h22v2h-22zM804 183.4h28v2h-28zM834 183.4h10v2h-10zM800 185.4h4v2h-4zM806 185.4h16v2h-16zM824 185.4h2v2h-2zM828 185.4h4v2h-4zM834 185.4h8v2h-8zM798 187.4h2v2h-2zM804 187.4h32v2h-32zM800 189.4h38v2h-38zM842 189.4h4v2h-4zM798 191.4h36v2h-36zM838 191.4h4v2h-4zM844 191.4h2v2h-2zM794 193.4h2v2h-2zM798 193.4h24v2h-24zM824 193.4h6v2h-6zM834 193.4h12v2h-12zM796 195.4h12v2h-12zM810 195.4h20v2h-20zM832 195.4h4v2h-4zM838 195.4h4v2h-4zM846 195.4h2v2h-2zM792 197.4h2v2h-2zM796 197.4h4v2h-4zM804 197.4h14v2h-14zM820 197.4h26v2h-26zM848 197.4h2v2h-2zM790 199.4h22v2h-22zM814 199.4h8v2h-8zM824 199.4h12v2h-12zM838 199.4h10v2h-10zM788 201.4h2v2h-2zM794 201.4h8v2h-8zM808 201.4h4v2h-4zM814 201.4h26v2h-26zM842 201.4h8v2h-8zM790 203.4h4v2h-4zM796 203.4h26v2h-26zM824 203.4h8v2h-8zM834 203.4h8v2h-8zM844 203.4h4v2h-4zM792 205.4h2v2h-2zM796 205.4h8v2h-8zM806 205.4h20v2h-20zM828 205.4h8v2h-8zM838 205.4h10v2h-10zM794 207.4h8v2h-8zM804 207.4h12v2h-12zM818 207.4h2v2h-2zM822 207.4h14v2h-14zM838 207.4h2v2h-2zM842 207.4h6v2h-6zM798 209.4h6v2h-6zM808 209.4h14v2h-14zM824 209.4h4v2h-4zM830 209.4h14v2h-14zM800 211.4h6v2h-6zM808 211.4h12v2h-12zM822 211.4h10v2h-10zM834 211.4h4v2h-4zM840 211.4h6v2h-6zM800 213.4h2v2h-2zM804 213.4h4v2h-4zM810 213.4h8v2h-8zM820 213.4h16v2h-16zM838 213.4h2v2h-2zM804 215.4h10v2h-10zM828 215.4h16v2h-16zM808 217.4h6v2h-6zM828 217.4h6v2h-6zM836 217.4h6v2h-6zM808 219.4h4v2h-4zM822 219.4h2v2h-2zM828 219.4h2v2h-2zM834 219.4h6v2h-6zM842 219.4h2v2h-2zM728 221.4h2v2h-2zM742 221.4h2v2h-2zM808 221.4h2v2h-2zM818 221.4h8v2h-8zM828 221.4h4v2h-4zM836 221.4h10v2h-10zM724 223.4h4v2h-4zM730 223.4h8v2h-8zM740 223.4h6v2h-6zM748 223.4h2v2h-2zM796 223.4h6v2h-6zM804 223.4h4v2h-4zM810 223.4h6v2h-6zM818 223.4h2v2h-2zM824 223.4h22v2h-22zM720 225.4h2v2h-2zM724 225.4h2v2h-2zM728 225.4h2v2h-2zM732 225.4h2v2h-2zM736 225.4h20v2h-20zM758 225.4h2v2h-2zM792 225.4h6v2h-6zM802 225.4h24v2h-24zM828 225.4h2v2h-2zM836 225.4h8v2h-8zM720 227.4h6v2h-6zM732 227.4h4v2h-4zM738 227.4h2v2h-2zM742 227.4h22v2h-22zM766 227.4h4v2h-4zM788 227.4h8v2h-8zM798 227.4h2v2h-2zM804 227.4h18v2h-18zM828 227.4h14v2h-14zM844 227.4h2v2h-2zM720 229.4h24v2h-24zM746 229.4h2v2h-2zM750 229.4h12v2h-12zM764 229.4h4v2h-4zM770 229.4h2v2h-2zM786 229.4h18v2h-18zM806 229.4h2v2h-2zM810 229.4h20v2h-20zM832 229.4h4v2h-4zM838 229.4h4v2h-4zM724 231.4h12v2h-12zM738 231.4h2v2h-2zM742 231.4h6v2h-6zM750 231.4h10v2h-10zM762 231.4h2v2h-2zM766 231.4h6v2h-6zM782 231.4h18v2h-18zM802 231.4h4v2h-4zM808 231.4h2v2h-2zM814 231.4h20v2h-20zM838 231.4h4v2h-4zM724 233.4h2v2h-2zM728 233.4h16v2h-16zM746 233.4h6v2h-6zM754 233.4h10v2h-10zM768 233.4h6v2h-6zM778 233.4h20v2h-20zM800 233.4h2v2h-2zM804 233.4h36v2h-36zM842 233.4h2v2h-2zM728 235.4h46v2h-46zM776 235.4h8v2h-8zM786 235.4h6v2h-6zM796 235.4h16v2h-16zM814 235.4h8v2h-8zM824 235.4h12v2h-12zM838 235.4h4v2h-4zM730 237.4h2v2h-2zM734 237.4h14v2h-14zM752 237.4h28v2h-28zM784 237.4h6v2h-6zM792 237.4h2v2h-2zM800 237.4h4v2h-4zM806 237.4h22v2h-22zM830 237.4h16v2h-16zM732 239.4h2v2h-2zM736 239.4h24v2h-24zM762 239.4h16v2h-16zM780 239.4h8v2h-8zM790 239.4h4v2h-4zM796 239.4h2v2h-2zM800 239.4h4v2h-4zM806 239.4h4v2h-4zM814 239.4h2v2h-2zM826 239.4h8v2h-8zM836 239.4h2v2h-2zM842 239.4h6v2h-6zM854 239.4h2v2h-2zM734 241.4h22v2h-22zM758 241.4h6v2h-6zM766 241.4h10v2h-10zM778 241.4h4v2h-4zM786 241.4h16v2h-16zM804 241.4h2v2h-2zM808 241.4h4v2h-4zM814 241.4h4v2h-4zM820 241.4h2v2h-2zM824 241.4h12v2h-12zM838 241.4h16v2h-16zM856 241.4h4v2h-4zM736 243.4h4v2h-4zM746 243.4h2v2h-2zM750 243.4h6v2h-6zM758 243.4h14v2h-14zM798 243.4h18v2h-18zM818 243.4h6v2h-6zM830 243.4h28v2h-28zM860 243.4h2v2h-2zM730 245.4h24v2h-24zM756 245.4h16v2h-16zM800 245.4h2v2h-2zM804 245.4h8v2h-8zM814 245.4h2v2h-2zM818 245.4h20v2h-20zM840 245.4h16v2h-16zM860 245.4h2v2h-2zM722 247.4h4v2h-4zM730 247.4h22v2h-22zM754 247.4h18v2h-18zM802 247.4h16v2h-16zM820 247.4h20v2h-20zM842 247.4h6v2h-6zM850 247.4h6v2h-6zM718 249.4h18v2h-18zM738 249.4h2v2h-2zM744 249.4h24v2h-24zM770 249.4h2v2h-2zM802 249.4h6v2h-6zM810 249.4h44v2h-44zM716 251.4h4v2h-4zM722 251.4h10v2h-10zM734 251.4h2v2h-2zM738 251.4h30v2h-30zM770 251.4h4v2h-4zM804 251.4h6v2h-6zM812 251.4h38v2h-38zM714 253.4h10v2h-10zM728 253.4h4v2h-4zM736 253.4h6v2h-6zM744 253.4h22v2h-22zM768 253.4h4v2h-4zM802 253.4h40v2h-40zM844 253.4h4v2h-4zM712 255.4h2v2h-2zM716 255.4h2v2h-2zM720 255.4h12v2h-12zM736 255.4h4v2h-4zM742 255.4h20v2h-20zM764 255.4h6v2h-6zM772 255.4h2v2h-2zM806 255.4h2v2h-2zM810 255.4h4v2h-4zM818 255.4h2v2h-2zM822 255.4h10v2h-10zM834 255.4h6v2h-6zM842 255.4h6v2h-6zM712 257.4h2v2h-2zM716 257.4h20v2h-20zM738 257.4h24v2h-24zM764 257.4h10v2h-10zM802 257.4h2v2h-2zM806 257.4h10v2h-10zM820 257.4h20v2h-20zM842 257.4h4v2h-4zM716 259.4h2v2h-2zM720 259.4h14v2h-14zM736 259.4h16v2h-16zM754 259.4h4v2h-4zM762 259.4h12v2h-12zM802 259.4h12v2h-12zM816 259.4h10v2h-10zM828 259.4h12v2h-12zM844 259.4h2v2h-2zM722 261.4h2v2h-2zM726 261.4h2v2h-2zM730 261.4h18v2h-18zM750 261.4h10v2h-10zM766 261.4h6v2h-6zM804 261.4h12v2h-12zM818 261.4h16v2h-16zM836 261.4h4v2h-4zM842 261.4h2v2h-2zM722 263.4h2v2h-2zM726 263.4h24v2h-24zM752 263.4h2v2h-2zM756 263.4h18v2h-18zM804 263.4h4v2h-4zM810 263.4h22v2h-22zM834 263.4h8v2h-8zM848 263.4h2v2h-2zM724 265.4h2v2h-2zM730 265.4h2v2h-2zM736 265.4h12v2h-12zM750 265.4h4v2h-4zM756 265.4h16v2h-16zM802 265.4h36v2h-36zM842 265.4h10v2h-10zM734 267.4h18v2h-18zM754 267.4h6v2h-6zM762 267.4h2v2h-2zM766 267.4h6v2h-6zM802 267.4h18v2h-18zM824 267.4h8v2h-8zM834 267.4h12v2h-12zM736 269.4h6v2h-6zM744 269.4h16v2h-16zM762 269.4h12v2h-12zM802 269.4h8v2h-8zM812 269.4h20v2h-20zM834 269.4h14v2h-14zM736 271.4h20v2h-20zM758 271.4h6v2h-6zM768 271.4h2v2h-2zM772 271.4h2v2h-2zM802 271.4h4v2h-4zM808 271.4h12v2h-12zM822 271.4h4v2h-4zM828 271.4h12v2h-12zM736 273.4h2v2h-2zM740 273.4h10v2h-10zM752 273.4h10v2h-10zM764 273.4h10v2h-10zM800 273.4h4v2h-4zM808 273.4h2v2h-2zM814 273.4h2v2h-2zM818 273.4h6v2h-6zM826 273.4h10v2h-10zM732 275.4h2v2h-2zM736 275.4h2v2h-2zM740 275.4h4v2h-4zM748 275.4h20v2h-20zM770 275.4h4v2h-4zM798 275.4h22v2h-22zM822 275.4h6v2h-6zM832 275.4h2v2h-2zM732 277.4h14v2h-14zM748 277.4h4v2h-4zM754 277.4h20v2h-20zM796 277.4h32v2h-32zM730 279.4h4v2h-4zM740 279.4h18v2h-18zM760 279.4h2v2h-2zM764 279.4h4v2h-4zM770 279.4h10v2h-10zM782 279.4h12v2h-12zM796 279.4h24v2h-24zM822 279.4h4v2h-4zM730 281.4h20v2h-20zM754 281.4h14v2h-14zM770 281.4h14v2h-14zM786 281.4h8v2h-8zM796 281.4h6v2h-6zM804 281.4h14v2h-14zM820 281.4h4v2h-4zM728 283.4h14v2h-14zM744 283.4h6v2h-6zM752 283.4h6v2h-6zM760 283.4h20v2h-20zM784 283.4h4v2h-4zM790 283.4h2v2h-2zM796 283.4h12v2h-12zM810 283.4h2v2h-2zM814 283.4h10v2h-10zM728 285.4h4v2h-4zM734 285.4h14v2h-14zM750 285.4h24v2h-24zM776 285.4h12v2h-12zM790 285.4h26v2h-26zM820 285.4h4v2h-4zM726 287.4h14v2h-14zM742 287.4h20v2h-20zM764 287.4h6v2h-6zM772 287.4h14v2h-14zM788 287.4h12v2h-12zM802 287.4h4v2h-4zM808 287.4h16v2h-16zM728 289.4h10v2h-10zM742 289.4h6v2h-6zM752 289.4h12v2h-12zM766 289.4h26v2h-26zM794 289.4h8v2h-8zM806 289.4h18v2h-18zM728 291.4h8v2h-8zM740 291.4h4v2h-4zM746 291.4h4v2h-4zM754 291.4h6v2h-6zM762 291.4h8v2h-8zM772 291.4h36v2h-36zM810 291.4h16v2h-16zM728 293.4h12v2h-12zM742 293.4h2v2h-2zM746 293.4h4v2h-4zM752 293.4h2v2h-2zM756 293.4h4v2h-4zM764 293.4h2v2h-2zM768 293.4h6v2h-6zM776 293.4h2v2h-2zM780 293.4h2v2h-2zM784 293.4h6v2h-6zM792 293.4h6v2h-6zM800 293.4h2v2h-2zM804 293.4h2v2h-2zM808 293.4h8v2h-8zM820 293.4h2v2h-2zM826 293.4h2v2h-2zM736 295.4h10v2h-10zM748 295.4h16v2h-16zM766 295.4h6v2h-6zM774 295.4h6v2h-6zM782 295.4h6v2h-6zM790 295.4h4v2h-4zM796 295.4h4v2h-4zM802 295.4h6v2h-6zM810 295.4h6v2h-6zM818 295.4h12v2h-12zM746 297.4h8v2h-8zM758 297.4h4v2h-4zM764 297.4h6v2h-6zM772 297.4h8v2h-8zM782 297.4h16v2h-16zM802 297.4h8v2h-8zM812 297.4h10v2h-10zM824 297.4h4v2h-4zM748 299.4h18v2h-18zM768 299.4h8v2h-8zM778 299.4h24v2h-24zM804 299.4h6v2h-6zM816 299.4h12v2h-12zM830 299.4h2v2h-2zM754 301.4h56v2h-56zM812 301.4h12v2h-12zM826 301.4h4v2h-4zM832 301.4h2v2h-2zM756 303.4h30v2h-30zM788 303.4h2v2h-2zM792 303.4h2v2h-2zM796 303.4h4v2h-4zM802 303.4h10v2h-10zM820 303.4h12v2h-12zM764 305.4h6v2h-6zM778 305.4h2v2h-2zM782 305.4h2v2h-2zM786 305.4h6v2h-6zM794 305.4h10v2h-10zM820 305.4h6v2h-6zM828 305.4h6v2h-6zM768 307.4h8v2h-8zM778 307.4h10v2h-10zM790 307.4h2v2h-2zM794 307.4h12v2h-12zM822 307.4h6v2h-6zM772 309.4h16v2h-16zM798 309.4h4v2h-4zM776 311.4h2v2h-2zM774 313.4h6v2h-6z" fill="#b52a22" shape-rendering="crispEdges"/>
<!-- hive -->
<g shape-rendering="crispEdges">
<rect x="774.2" y="246.8" width="19.6" height="29.8" fill="#a17048"/>
<rect x="773.5" y="247.2" width="21" height="1.2" fill="#5a3a24"/>
<rect x="773.5" y="253.3" width="22" height="1.3" fill="#5a3a24"/>
<rect x="778.2" y="271.1" width="11.6" height="1.6" fill="#141008"/>
</g>
<rect x="588" y="407" width="1.6" height="1.4" fill="#b0603a"/>
<rect x="747" y="223.2" width="1.6" height="1.4" fill="#e06a20"/>
<!-- bees -->
<g shape-rendering="crispEdges"><rect x="756" y="234" width="1" height="1" fill="#15150a"/><rect x="759" y="234" width="1" height="1" fill="#15150a"/><rect x="756" y="235" width="1" height="1" fill="#15150a"/><rect x="757" y="235" width="1" height="1" fill="#777220"/><rect x="758" y="235" width="1" height="1" fill="#15150a"/><rect x="759" y="235" width="1" height="1" fill="#bdb226"/><rect x="760" y="235" width="1" height="1" fill="#bdb226"/><rect x="755" y="236" width="1" height="1" fill="#15150a"/><rect x="756" y="236" width="1" height="1" fill="#777220"/><rect x="757" y="236" width="1" height="1" fill="#777220"/><rect x="758" y="236" width="1" height="1" fill="#15150a"/><rect x="759" y="236" width="1" height="1" fill="#15150a"/><rect x="760" y="236" width="1" height="1" fill="#3a3810"/><rect x="761" y="236" width="1" height="1" fill="#15150a"/><rect x="762" y="236" width="1" height="1" fill="#3a3810"/><rect x="754" y="237" width="1" height="1" fill="#bdb226"/><rect x="755" y="237" width="1" height="1" fill="#777220"/><rect x="756" y="237" width="1" height="1" fill="#15150a"/><rect x="757" y="237" width="1" height="1" fill="#777220"/><rect x="758" y="237" width="1" height="1" fill="#15150a"/><rect x="759" y="237" width="1" height="1" fill="#15150a"/><rect x="760" y="237" width="1" height="1" fill="#777220"/><rect x="761" y="237" width="1" height="1" fill="#3a3810"/><rect x="762" y="237" width="1" height="1" fill="#15150a"/><rect x="753" y="238" width="1" height="1" fill="#777220"/><rect x="754" y="238" width="1" height="1" fill="#777220"/><rect x="755" y="238" width="1" height="1" fill="#15150a"/><rect x="756" y="238" width="1" height="1" fill="#777220"/><rect x="757" y="238" width="1" height="1" fill="#777220"/><rect x="758" y="238" width="1" height="1" fill="#777220"/><rect x="759" y="238" width="1" height="1" fill="#777220"/><rect x="760" y="238" width="1" height="1" fill="#15150a"/><rect x="761" y="238" width="1" height="1" fill="#777220"/><rect x="762" y="238" width="1" height="1" fill="#3a3810"/><rect x="763" y="238" width="1" height="1" fill="#3a3810"/><rect x="752" y="239" width="1" height="1" fill="#bdb226"/><rect x="753" y="239" width="1" height="1" fill="#777220"/><rect x="754" y="239" width="1" height="1" fill="#15150a"/><rect x="755" y="239" width="1" height="1" fill="#3a3810"/><rect x="756" y="239" width="1" height="1" fill="#15150a"/><rect x="757" y="239" width="1" height="1" fill="#bdb226"/><rect x="758" y="239" width="1" height="1" fill="#15150a"/><rect x="759" y="239" width="1" height="1" fill="#777220"/><rect x="760" y="239" width="1" height="1" fill="#15150a"/><rect x="761" y="239" width="1" height="1" fill="#15150a"/><rect x="762" y="239" width="1" height="1" fill="#777220"/><rect x="763" y="239" width="1" height="1" fill="#777220"/><rect x="753" y="240" width="1" height="1" fill="#15150a"/><rect x="754" y="240" width="1" height="1" fill="#3a3810"/><rect x="755" y="240" width="1" height="1" fill="#15150a"/><rect x="756" y="240" width="1" height="1" fill="#3a3810"/><rect x="757" y="240" width="1" height="1" fill="#777220"/><rect x="758" y="240" width="1" height="1" fill="#777220"/><rect x="759" y="240" width="1" height="1" fill="#3a3810"/><rect x="760" y="240" width="1" height="1" fill="#777220"/><rect x="761" y="240" width="1" height="1" fill="#777220"/><rect x="762" y="240" width="1" height="1" fill="#15150a"/><rect x="763" y="240" width="1" height="1" fill="#15150a"/><rect x="764" y="240" width="1" height="1" fill="#15150a"/><rect x="752" y="241" width="1" height="1" fill="#3a3810"/><rect x="753" y="241" width="1" height="1" fill="#15150a"/><rect x="754" y="241" width="1" height="1" fill="#15150a"/><rect x="755" y="241" width="1" height="1" fill="#bdb226"/><rect x="756" y="241" width="1" height="1" fill="#3a3810"/><rect x="757" y="241" width="1" height="1" fill="#3a3810"/><rect x="758" y="241" width="1" height="1" fill="#777220"/><rect x="759" y="241" width="1" height="1" fill="#15150a"/><rect x="760" y="241" width="1" height="1" fill="#bdb226"/><rect x="761" y="241" width="1" height="1" fill="#777220"/><rect x="762" y="241" width="1" height="1" fill="#15150a"/><rect x="763" y="241" width="1" height="1" fill="#777220"/><rect x="764" y="241" width="1" height="1" fill="#15150a"/><rect x="753" y="242" width="1" height="1" fill="#bdb226"/><rect x="754" y="242" width="1" height="1" fill="#bdb226"/><rect x="755" y="242" width="1" height="1" fill="#15150a"/><rect x="756" y="242" width="1" height="1" fill="#bdb226"/><rect x="757" y="242" width="1" height="1" fill="#15150a"/><rect x="758" y="242" width="1" height="1" fill="#bdb226"/><rect x="759" y="242" width="1" height="1" fill="#bdb226"/><rect x="760" y="242" width="1" height="1" fill="#777220"/><rect x="761" y="242" width="1" height="1" fill="#15150a"/><rect x="762" y="242" width="1" height="1" fill="#15150a"/><rect x="763" y="242" width="1" height="1" fill="#bdb226"/><rect x="764" y="242" width="1" height="1" fill="#15150a"/><rect x="765" y="242" width="1" height="1" fill="#777220"/><rect x="766" y="242" width="1" height="1" fill="#15150a"/><rect x="751" y="243" width="1" height="1" fill="#15150a"/><rect x="752" y="243" width="1" height="1" fill="#bdb226"/><rect x="753" y="243" width="1" height="1" fill="#15150a"/><rect x="754" y="243" width="1" height="1" fill="#bdb226"/><rect x="755" y="243" width="1" height="1" fill="#3a3810"/><rect x="756" y="243" width="1" height="1" fill="#bdb226"/><rect x="757" y="243" width="1" height="1" fill="#777220"/><rect x="758" y="243" width="1" height="1" fill="#3a3810"/><rect x="759" y="243" width="1" height="1" fill="#3a3810"/><rect x="760" y="243" width="1" height="1" fill="#777220"/><rect x="761" y="243" width="1" height="1" fill="#777220"/><rect x="762" y="243" width="1" height="1" fill="#777220"/><rect x="763" y="243" width="1" height="1" fill="#15150a"/><rect x="764" y="243" width="1" height="1" fill="#bdb226"/><rect x="765" y="243" width="1" height="1" fill="#15150a"/><rect x="766" y="243" width="1" height="1" fill="#15150a"/><rect x="767" y="243" width="1" height="1" fill="#bdb226"/><rect x="768" y="243" width="1" height="1" fill="#777220"/><rect x="751" y="244" width="1" height="1" fill="#bdb226"/><rect x="752" y="244" width="1" height="1" fill="#15150a"/><rect x="753" y="244" width="1" height="1" fill="#777220"/><rect x="754" y="244" width="1" height="1" fill="#15150a"/><rect x="755" y="244" width="1" height="1" fill="#15150a"/><rect x="756" y="244" width="1" height="1" fill="#bdb226"/><rect x="757" y="244" width="1" height="1" fill="#15150a"/><rect x="758" y="244" width="1" height="1" fill="#777220"/><rect x="759" y="244" width="1" height="1" fill="#15150a"/><rect x="760" y="244" width="1" height="1" fill="#15150a"/><rect x="761" y="244" width="1" height="1" fill="#3a3810"/><rect x="762" y="244" width="1" height="1" fill="#15150a"/><rect x="763" y="244" width="1" height="1" fill="#15150a"/><rect x="764" y="244" width="1" height="1" fill="#15150a"/><rect x="765" y="244" width="1" height="1" fill="#15150a"/><rect x="766" y="244" width="1" height="1" fill="#15150a"/><rect x="767" y="244" width="1" height="1" fill="#bdb226"/><rect x="768" y="244" width="1" height="1" fill="#3a3810"/><rect x="769" y="244" width="1" height="1" fill="#15150a"/><rect x="770" y="244" width="1" height="1" fill="#777220"/><rect x="752" y="245" width="1" height="1" fill="#15150a"/><rect x="753" y="245" width="1" height="1" fill="#bdb226"/><rect x="754" y="245" width="1" height="1" fill="#3a3810"/><rect x="755" y="245" width="1" height="1" fill="#15150a"/><rect x="756" y="245" width="1" height="1" fill="#bdb226"/><rect x="757" y="245" width="1" height="1" fill="#15150a"/><rect x="758" y="245" width="1" height="1" fill="#777220"/><rect x="759" y="245" width="1" height="1" fill="#3a3810"/><rect x="760" y="245" width="1" height="1" fill="#bdb226"/><rect x="761" y="245" width="1" height="1" fill="#15150a"/><rect x="762" y="245" width="1" height="1" fill="#15150a"/><rect x="763" y="245" width="1" height="1" fill="#15150a"/><rect x="764" y="245" width="1" height="1" fill="#3a3810"/><rect x="765" y="245" width="1" height="1" fill="#15150a"/><rect x="766" y="245" width="1" height="1" fill="#777220"/><rect x="767" y="245" width="1" height="1" fill="#15150a"/><rect x="768" y="245" width="1" height="1" fill="#15150a"/><rect x="769" y="245" width="1" height="1" fill="#777220"/><rect x="770" y="245" width="1" height="1" fill="#15150a"/><rect x="771" y="245" width="1" height="1" fill="#777220"/><rect x="750" y="246" width="1" height="1" fill="#bdb226"/><rect x="751" y="246" width="1" height="1" fill="#15150a"/><rect x="752" y="246" width="1" height="1" fill="#bdb226"/><rect x="753" y="246" width="1" height="1" fill="#3a3810"/><rect x="754" y="246" width="1" height="1" fill="#bdb226"/><rect x="755" y="246" width="1" height="1" fill="#3a3810"/><rect x="756" y="246" width="1" height="1" fill="#15150a"/><rect x="757" y="246" width="1" height="1" fill="#15150a"/><rect x="758" y="246" width="1" height="1" fill="#777220"/><rect x="759" y="246" width="1" height="1" fill="#777220"/><rect x="760" y="246" width="1" height="1" fill="#bdb226"/><rect x="761" y="246" width="1" height="1" fill="#777220"/><rect x="762" y="246" width="1" height="1" fill="#3a3810"/><rect x="763" y="246" width="1" height="1" fill="#777220"/><rect x="764" y="246" width="1" height="1" fill="#bdb226"/><rect x="765" y="246" width="1" height="1" fill="#bdb226"/><rect x="766" y="246" width="1" height="1" fill="#777220"/><rect x="767" y="246" width="1" height="1" fill="#15150a"/><rect x="768" y="246" width="1" height="1" fill="#777220"/><rect x="769" y="246" width="1" height="1" fill="#777220"/><rect x="770" y="246" width="1" height="1" fill="#777220"/><rect x="771" y="246" width="1" height="1" fill="#bdb226"/><rect x="772" y="246" width="1" height="1" fill="#bdb226"/><rect x="749" y="247" width="1" height="1" fill="#777220"/><rect x="750" y="247" width="1" height="1" fill="#15150a"/><rect x="751" y="247" width="1" height="1" fill="#15150a"/><rect x="752" y="247" width="1" height="1" fill="#777220"/><rect x="753" y="247" width="1" height="1" fill="#15150a"/><rect x="754" y="247" width="1" height="1" fill="#3a3810"/><rect x="755" y="247" width="1" height="1" fill="#3a3810"/><rect x="756" y="247" width="1" height="1" fill="#3a3810"/><rect x="757" y="247" width="1" height="1" fill="#15150a"/><rect x="758" y="247" width="1" height="1" fill="#15150a"/><rect x="759" y="247" width="1" height="1" fill="#3a3810"/><rect x="760" y="247" width="1" height="1" fill="#15150a"/><rect x="761" y="247" width="1" height="1" fill="#15150a"/><rect x="762" y="247" width="1" height="1" fill="#15150a"/><rect x="763" y="247" width="1" height="1" fill="#777220"/><rect x="764" y="247" width="1" height="1" fill="#15150a"/><rect x="765" y="247" width="1" height="1" fill="#bdb226"/><rect x="766" y="247" width="1" height="1" fill="#777220"/><rect x="767" y="247" width="1" height="1" fill="#777220"/><rect x="768" y="247" width="1" height="1" fill="#15150a"/><rect x="769" y="247" width="1" height="1" fill="#777220"/><rect x="770" y="247" width="1" height="1" fill="#15150a"/><rect x="771" y="247" width="1" height="1" fill="#15150a"/><rect x="773" y="247" width="1" height="1" fill="#3a3810"/><rect x="746" y="248" width="1" height="1" fill="#bdb226"/><rect x="747" y="248" width="1" height="1" fill="#15150a"/><rect x="748" y="248" width="1" height="1" fill="#777220"/><rect x="749" y="248" width="1" height="1" fill="#3a3810"/><rect x="750" y="248" width="1" height="1" fill="#3a3810"/><rect x="751" y="248" width="1" height="1" fill="#15150a"/><rect x="752" y="248" width="1" height="1" fill="#777220"/><rect x="753" y="248" width="1" height="1" fill="#3a3810"/><rect x="754" y="248" width="1" height="1" fill="#15150a"/><rect x="755" y="248" width="1" height="1" fill="#15150a"/><rect x="756" y="248" width="1" height="1" fill="#777220"/><rect x="757" y="248" width="1" height="1" fill="#777220"/><rect x="758" y="248" width="1" height="1" fill="#bdb226"/><rect x="759" y="248" width="1" height="1" fill="#777220"/><rect x="760" y="248" width="1" height="1" fill="#777220"/><rect x="761" y="248" width="1" height="1" fill="#15150a"/><rect x="762" y="248" width="1" height="1" fill="#777220"/><rect x="763" y="248" width="1" height="1" fill="#bdb226"/><rect x="764" y="248" width="1" height="1" fill="#777220"/><rect x="765" y="248" width="1" height="1" fill="#bdb226"/><rect x="766" y="248" width="1" height="1" fill="#15150a"/><rect x="767" y="248" width="1" height="1" fill="#15150a"/><rect x="768" y="248" width="1" height="1" fill="#3a3810"/><rect x="769" y="248" width="1" height="1" fill="#15150a"/><rect x="770" y="248" width="1" height="1" fill="#15150a"/><rect x="771" y="248" width="1" height="1" fill="#15150a"/><rect x="772" y="248" width="1" height="1" fill="#3a3810"/><rect x="745" y="249" width="1" height="1" fill="#15150a"/><rect x="746" y="249" width="1" height="1" fill="#777220"/><rect x="747" y="249" width="1" height="1" fill="#bdb226"/><rect x="748" y="249" width="1" height="1" fill="#777220"/><rect x="749" y="249" width="1" height="1" fill="#15150a"/><rect x="750" y="249" width="1" height="1" fill="#3a3810"/><rect x="751" y="249" width="1" height="1" fill="#bdb226"/><rect x="752" y="249" width="1" height="1" fill="#777220"/><rect x="753" y="249" width="1" height="1" fill="#777220"/><rect x="754" y="249" width="1" height="1" fill="#3a3810"/><rect x="755" y="249" width="1" height="1" fill="#bdb226"/><rect x="756" y="249" width="1" height="1" fill="#777220"/><rect x="757" y="249" width="1" height="1" fill="#bdb226"/><rect x="758" y="249" width="1" height="1" fill="#15150a"/><rect x="759" y="249" width="1" height="1" fill="#bdb226"/><rect x="760" y="249" width="1" height="1" fill="#3a3810"/><rect x="761" y="249" width="1" height="1" fill="#3a3810"/><rect x="762" y="249" width="1" height="1" fill="#15150a"/><rect x="763" y="249" width="1" height="1" fill="#777220"/><rect x="764" y="249" width="1" height="1" fill="#15150a"/><rect x="765" y="249" width="1" height="1" fill="#15150a"/><rect x="766" y="249" width="1" height="1" fill="#15150a"/><rect x="767" y="249" width="1" height="1" fill="#777220"/><rect x="768" y="249" width="1" height="1" fill="#3a3810"/><rect x="769" y="249" width="1" height="1" fill="#bdb226"/><rect x="770" y="249" width="1" height="1" fill="#15150a"/><rect x="771" y="249" width="1" height="1" fill="#bdb226"/><rect x="772" y="249" width="1" height="1" fill="#777220"/><rect x="774" y="249" width="1" height="1" fill="#15150a"/><rect x="746" y="250" width="1" height="1" fill="#bdb226"/><rect x="747" y="250" width="1" height="1" fill="#777220"/><rect x="748" y="250" width="1" height="1" fill="#777220"/><rect x="749" y="250" width="1" height="1" fill="#777220"/><rect x="750" y="250" width="1" height="1" fill="#777220"/><rect x="751" y="250" width="1" height="1" fill="#bdb226"/><rect x="752" y="250" width="1" height="1" fill="#15150a"/><rect x="753" y="250" width="1" height="1" fill="#15150a"/><rect x="754" y="250" width="1" height="1" fill="#3a3810"/><rect x="755" y="250" width="1" height="1" fill="#15150a"/><rect x="756" y="250" width="1" height="1" fill="#777220"/><rect x="757" y="250" width="1" height="1" fill="#3a3810"/><rect x="758" y="250" width="1" height="1" fill="#15150a"/><rect x="759" y="250" width="1" height="1" fill="#15150a"/><rect x="760" y="250" width="1" height="1" fill="#15150a"/><rect x="761" y="250" width="1" height="1" fill="#15150a"/><rect x="762" y="250" width="1" height="1" fill="#bdb226"/><rect x="763" y="250" width="1" height="1" fill="#15150a"/><rect x="764" y="250" width="1" height="1" fill="#3a3810"/><rect x="765" y="250" width="1" height="1" fill="#15150a"/><rect x="766" y="250" width="1" height="1" fill="#3a3810"/><rect x="767" y="250" width="1" height="1" fill="#15150a"/><rect x="768" y="250" width="1" height="1" fill="#3a3810"/><rect x="769" y="250" width="1" height="1" fill="#15150a"/><rect x="770" y="250" width="1" height="1" fill="#777220"/><rect x="771" y="250" width="1" height="1" fill="#15150a"/><rect x="772" y="250" width="1" height="1" fill="#bdb226"/><rect x="745" y="251" width="1" height="1" fill="#15150a"/><rect x="746" y="251" width="1" height="1" fill="#777220"/><rect x="747" y="251" width="1" height="1" fill="#15150a"/><rect x="748" y="251" width="1" height="1" fill="#777220"/><rect x="749" y="251" width="1" height="1" fill="#15150a"/><rect x="750" y="251" width="1" height="1" fill="#15150a"/><rect x="751" y="251" width="1" height="1" fill="#15150a"/><rect x="752" y="251" width="1" height="1" fill="#777220"/><rect x="753" y="251" width="1" height="1" fill="#15150a"/><rect x="754" y="251" width="1" height="1" fill="#15150a"/><rect x="755" y="251" width="1" height="1" fill="#15150a"/><rect x="756" y="251" width="1" height="1" fill="#15150a"/><rect x="757" y="251" width="1" height="1" fill="#777220"/><rect x="758" y="251" width="1" height="1" fill="#bdb226"/><rect x="759" y="251" width="1" height="1" fill="#3a3810"/><rect x="760" y="251" width="1" height="1" fill="#777220"/><rect x="761" y="251" width="1" height="1" fill="#15150a"/><rect x="762" y="251" width="1" height="1" fill="#15150a"/><rect x="763" y="251" width="1" height="1" fill="#15150a"/><rect x="764" y="251" width="1" height="1" fill="#15150a"/><rect x="765" y="251" width="1" height="1" fill="#777220"/><rect x="766" y="251" width="1" height="1" fill="#777220"/><rect x="767" y="251" width="1" height="1" fill="#15150a"/><rect x="768" y="251" width="1" height="1" fill="#15150a"/><rect x="769" y="251" width="1" height="1" fill="#777220"/><rect x="770" y="251" width="1" height="1" fill="#3a3810"/><rect x="771" y="251" width="1" height="1" fill="#15150a"/><rect x="772" y="251" width="1" height="1" fill="#15150a"/><rect x="744" y="252" width="1" height="1" fill="#777220"/><rect x="745" y="252" width="1" height="1" fill="#777220"/><rect x="746" y="252" width="1" height="1" fill="#15150a"/><rect x="747" y="252" width="1" height="1" fill="#3a3810"/><rect x="748" y="252" width="1" height="1" fill="#3a3810"/><rect x="749" y="252" width="1" height="1" fill="#15150a"/><rect x="750" y="252" width="1" height="1" fill="#bdb226"/><rect x="751" y="252" width="1" height="1" fill="#15150a"/><rect x="752" y="252" width="1" height="1" fill="#bdb226"/><rect x="753" y="252" width="1" height="1" fill="#15150a"/><rect x="754" y="252" width="1" height="1" fill="#bdb226"/><rect x="755" y="252" width="1" height="1" fill="#3a3810"/><rect x="756" y="252" width="1" height="1" fill="#bdb226"/><rect x="757" y="252" width="1" height="1" fill="#777220"/><rect x="758" y="252" width="1" height="1" fill="#15150a"/><rect x="759" y="252" width="1" height="1" fill="#3a3810"/><rect x="760" y="252" width="1" height="1" fill="#15150a"/><rect x="761" y="252" width="1" height="1" fill="#15150a"/><rect x="762" y="252" width="1" height="1" fill="#777220"/><rect x="763" y="252" width="1" height="1" fill="#15150a"/><rect x="764" y="252" width="1" height="1" fill="#15150a"/><rect x="765" y="252" width="1" height="1" fill="#15150a"/><rect x="766" y="252" width="1" height="1" fill="#777220"/><rect x="767" y="252" width="1" height="1" fill="#15150a"/><rect x="768" y="252" width="1" height="1" fill="#15150a"/><rect x="769" y="252" width="1" height="1" fill="#3a3810"/><rect x="770" y="252" width="1" height="1" fill="#777220"/><rect x="771" y="252" width="1" height="1" fill="#15150a"/><rect x="772" y="252" width="1" height="1" fill="#15150a"/><rect x="745" y="253" width="1" height="1" fill="#bdb226"/><rect x="746" y="253" width="1" height="1" fill="#bdb226"/><rect x="747" y="253" width="1" height="1" fill="#3a3810"/><rect x="748" y="253" width="1" height="1" fill="#bdb226"/><rect x="749" y="253" width="1" height="1" fill="#15150a"/><rect x="750" y="253" width="1" height="1" fill="#15150a"/><rect x="751" y="253" width="1" height="1" fill="#bdb226"/><rect x="752" y="253" width="1" height="1" fill="#777220"/><rect x="753" y="253" width="1" height="1" fill="#777220"/><rect x="754" y="253" width="1" height="1" fill="#777220"/><rect x="755" y="253" width="1" height="1" fill="#15150a"/><rect x="756" y="253" width="1" height="1" fill="#15150a"/><rect x="757" y="253" width="1" height="1" fill="#15150a"/><rect x="758" y="253" width="1" height="1" fill="#15150a"/><rect x="759" y="253" width="1" height="1" fill="#15150a"/><rect x="760" y="253" width="1" height="1" fill="#777220"/><rect x="761" y="253" width="1" height="1" fill="#15150a"/><rect x="762" y="253" width="1" height="1" fill="#15150a"/><rect x="763" y="253" width="1" height="1" fill="#777220"/><rect x="764" y="253" width="1" height="1" fill="#15150a"/><rect x="765" y="253" width="1" height="1" fill="#15150a"/><rect x="766" y="253" width="1" height="1" fill="#3a3810"/><rect x="767" y="253" width="1" height="1" fill="#3a3810"/><rect x="768" y="253" width="1" height="1" fill="#15150a"/><rect x="769" y="253" width="1" height="1" fill="#15150a"/><rect x="770" y="253" width="1" height="1" fill="#bdb226"/><rect x="771" y="253" width="1" height="1" fill="#bdb226"/><rect x="772" y="253" width="1" height="1" fill="#15150a"/><rect x="745" y="254" width="1" height="1" fill="#777220"/><rect x="746" y="254" width="1" height="1" fill="#15150a"/><rect x="747" y="254" width="1" height="1" fill="#15150a"/><rect x="748" y="254" width="1" height="1" fill="#15150a"/><rect x="749" y="254" width="1" height="1" fill="#15150a"/><rect x="750" y="254" width="1" height="1" fill="#777220"/><rect x="751" y="254" width="1" height="1" fill="#15150a"/><rect x="752" y="254" width="1" height="1" fill="#bdb226"/><rect x="753" y="254" width="1" height="1" fill="#bdb226"/><rect x="754" y="254" width="1" height="1" fill="#15150a"/><rect x="755" y="254" width="1" height="1" fill="#15150a"/><rect x="756" y="254" width="1" height="1" fill="#15150a"/><rect x="757" y="254" width="1" height="1" fill="#3a3810"/><rect x="758" y="254" width="1" height="1" fill="#15150a"/><rect x="759" y="254" width="1" height="1" fill="#15150a"/><rect x="760" y="254" width="1" height="1" fill="#15150a"/><rect x="761" y="254" width="1" height="1" fill="#777220"/><rect x="762" y="254" width="1" height="1" fill="#777220"/><rect x="763" y="254" width="1" height="1" fill="#15150a"/><rect x="764" y="254" width="1" height="1" fill="#bdb226"/><rect x="765" y="254" width="1" height="1" fill="#15150a"/><rect x="766" y="254" width="1" height="1" fill="#bdb226"/><rect x="767" y="254" width="1" height="1" fill="#bdb226"/><rect x="768" y="254" width="1" height="1" fill="#bdb226"/><rect x="769" y="254" width="1" height="1" fill="#3a3810"/><rect x="770" y="254" width="1" height="1" fill="#3a3810"/><rect x="771" y="254" width="1" height="1" fill="#15150a"/><rect x="772" y="254" width="1" height="1" fill="#15150a"/><rect x="773" y="254" width="1" height="1" fill="#15150a"/><rect x="774" y="254" width="1" height="1" fill="#777220"/><rect x="746" y="255" width="1" height="1" fill="#bdb226"/><rect x="747" y="255" width="1" height="1" fill="#15150a"/><rect x="748" y="255" width="1" height="1" fill="#777220"/><rect x="749" y="255" width="1" height="1" fill="#777220"/><rect x="750" y="255" width="1" height="1" fill="#15150a"/><rect x="751" y="255" width="1" height="1" fill="#777220"/><rect x="752" y="255" width="1" height="1" fill="#15150a"/><rect x="753" y="255" width="1" height="1" fill="#15150a"/><rect x="754" y="255" width="1" height="1" fill="#777220"/><rect x="755" y="255" width="1" height="1" fill="#15150a"/><rect x="756" y="255" width="1" height="1" fill="#15150a"/><rect x="757" y="255" width="1" height="1" fill="#bdb226"/><rect x="758" y="255" width="1" height="1" fill="#777220"/><rect x="759" y="255" width="1" height="1" fill="#bdb226"/><rect x="760" y="255" width="1" height="1" fill="#15150a"/><rect x="761" y="255" width="1" height="1" fill="#15150a"/><rect x="762" y="255" width="1" height="1" fill="#777220"/><rect x="763" y="255" width="1" height="1" fill="#15150a"/><rect x="764" y="255" width="1" height="1" fill="#15150a"/><rect x="765" y="255" width="1" height="1" fill="#15150a"/><rect x="766" y="255" width="1" height="1" fill="#15150a"/><rect x="767" y="255" width="1" height="1" fill="#3a3810"/><rect x="768" y="255" width="1" height="1" fill="#15150a"/><rect x="769" y="255" width="1" height="1" fill="#bdb226"/><rect x="770" y="255" width="1" height="1" fill="#3a3810"/><rect x="771" y="255" width="1" height="1" fill="#777220"/><rect x="772" y="255" width="1" height="1" fill="#15150a"/><rect x="773" y="255" width="1" height="1" fill="#777220"/><rect x="774" y="255" width="1" height="1" fill="#bdb226"/><rect x="745" y="256" width="1" height="1" fill="#3a3810"/><rect x="746" y="256" width="1" height="1" fill="#3a3810"/><rect x="747" y="256" width="1" height="1" fill="#777220"/><rect x="748" y="256" width="1" height="1" fill="#15150a"/><rect x="749" y="256" width="1" height="1" fill="#777220"/><rect x="750" y="256" width="1" height="1" fill="#3a3810"/><rect x="751" y="256" width="1" height="1" fill="#15150a"/><rect x="752" y="256" width="1" height="1" fill="#bdb226"/><rect x="753" y="256" width="1" height="1" fill="#15150a"/><rect x="754" y="256" width="1" height="1" fill="#15150a"/><rect x="755" y="256" width="1" height="1" fill="#777220"/><rect x="756" y="256" width="1" height="1" fill="#15150a"/><rect x="757" y="256" width="1" height="1" fill="#777220"/><rect x="758" y="256" width="1" height="1" fill="#777220"/><rect x="759" y="256" width="1" height="1" fill="#777220"/><rect x="760" y="256" width="1" height="1" fill="#3a3810"/><rect x="761" y="256" width="1" height="1" fill="#15150a"/><rect x="762" y="256" width="1" height="1" fill="#15150a"/><rect x="763" y="256" width="1" height="1" fill="#15150a"/><rect x="764" y="256" width="1" height="1" fill="#777220"/><rect x="765" y="256" width="1" height="1" fill="#777220"/><rect x="766" y="256" width="1" height="1" fill="#15150a"/><rect x="767" y="256" width="1" height="1" fill="#15150a"/><rect x="768" y="256" width="1" height="1" fill="#15150a"/><rect x="769" y="256" width="1" height="1" fill="#15150a"/><rect x="770" y="256" width="1" height="1" fill="#777220"/><rect x="771" y="256" width="1" height="1" fill="#3a3810"/><rect x="772" y="256" width="1" height="1" fill="#3a3810"/><rect x="773" y="256" width="1" height="1" fill="#15150a"/><rect x="774" y="256" width="1" height="1" fill="#3a3810"/><rect x="747" y="257" width="1" height="1" fill="#15150a"/><rect x="748" y="257" width="1" height="1" fill="#777220"/><rect x="749" y="257" width="1" height="1" fill="#3a3810"/><rect x="750" y="257" width="1" height="1" fill="#15150a"/><rect x="751" y="257" width="1" height="1" fill="#bdb226"/><rect x="752" y="257" width="1" height="1" fill="#15150a"/><rect x="753" y="257" width="1" height="1" fill="#15150a"/><rect x="754" y="257" width="1" height="1" fill="#bdb226"/><rect x="755" y="257" width="1" height="1" fill="#777220"/><rect x="756" y="257" width="1" height="1" fill="#15150a"/><rect x="758" y="257" width="1" height="1" fill="#15150a"/><rect x="759" y="257" width="1" height="1" fill="#3a3810"/><rect x="760" y="257" width="1" height="1" fill="#15150a"/><rect x="761" y="257" width="1" height="1" fill="#15150a"/><rect x="762" y="257" width="1" height="1" fill="#bdb226"/><rect x="763" y="257" width="1" height="1" fill="#15150a"/><rect x="764" y="257" width="1" height="1" fill="#777220"/><rect x="765" y="257" width="1" height="1" fill="#15150a"/><rect x="766" y="257" width="1" height="1" fill="#15150a"/><rect x="767" y="257" width="1" height="1" fill="#3a3810"/><rect x="768" y="257" width="1" height="1" fill="#bdb226"/><rect x="769" y="257" width="1" height="1" fill="#3a3810"/><rect x="770" y="257" width="1" height="1" fill="#3a3810"/><rect x="771" y="257" width="1" height="1" fill="#777220"/><rect x="772" y="257" width="1" height="1" fill="#15150a"/><rect x="773" y="257" width="1" height="1" fill="#777220"/><rect x="774" y="257" width="1" height="1" fill="#15150a"/><rect x="747" y="258" width="1" height="1" fill="#15150a"/><rect x="748" y="258" width="1" height="1" fill="#777220"/><rect x="749" y="258" width="1" height="1" fill="#bdb226"/><rect x="750" y="258" width="1" height="1" fill="#777220"/><rect x="751" y="258" width="1" height="1" fill="#777220"/><rect x="752" y="258" width="1" height="1" fill="#3a3810"/><rect x="760" y="258" width="1" height="1" fill="#bdb226"/><rect x="761" y="258" width="1" height="1" fill="#15150a"/><rect x="762" y="258" width="1" height="1" fill="#777220"/><rect x="763" y="258" width="1" height="1" fill="#15150a"/><rect x="764" y="258" width="1" height="1" fill="#15150a"/><rect x="765" y="258" width="1" height="1" fill="#777220"/><rect x="766" y="258" width="1" height="1" fill="#15150a"/><rect x="767" y="258" width="1" height="1" fill="#15150a"/><rect x="768" y="258" width="1" height="1" fill="#15150a"/><rect x="769" y="258" width="1" height="1" fill="#777220"/><rect x="770" y="258" width="1" height="1" fill="#3a3810"/><rect x="771" y="258" width="1" height="1" fill="#777220"/><rect x="772" y="258" width="1" height="1" fill="#777220"/><rect x="773" y="258" width="1" height="1" fill="#777220"/><rect x="774" y="258" width="1" height="1" fill="#3a3810"/><rect x="748" y="259" width="1" height="1" fill="#777220"/><rect x="749" y="259" width="1" height="1" fill="#15150a"/><rect x="750" y="259" width="1" height="1" fill="#777220"/><rect x="751" y="259" width="1" height="1" fill="#15150a"/><rect x="761" y="259" width="1" height="1" fill="#15150a"/><rect x="762" y="259" width="1" height="1" fill="#bdb226"/><rect x="763" y="259" width="1" height="1" fill="#15150a"/><rect x="764" y="259" width="1" height="1" fill="#15150a"/><rect x="765" y="259" width="1" height="1" fill="#15150a"/><rect x="766" y="259" width="1" height="1" fill="#15150a"/><rect x="767" y="259" width="1" height="1" fill="#15150a"/><rect x="768" y="259" width="1" height="1" fill="#15150a"/><rect x="769" y="259" width="1" height="1" fill="#15150a"/><rect x="770" y="259" width="1" height="1" fill="#15150a"/><rect x="771" y="259" width="1" height="1" fill="#3a3810"/><rect x="772" y="259" width="1" height="1" fill="#777220"/><rect x="773" y="259" width="1" height="1" fill="#15150a"/><rect x="774" y="259" width="1" height="1" fill="#15150a"/><rect x="748" y="260" width="1" height="1" fill="#777220"/><rect x="749" y="260" width="1" height="1" fill="#777220"/><rect x="750" y="260" width="1" height="1" fill="#bdb226"/><rect x="761" y="260" width="1" height="1" fill="#15150a"/><rect x="762" y="260" width="1" height="1" fill="#bdb226"/><rect x="763" y="260" width="1" height="1" fill="#15150a"/><rect x="764" y="260" width="1" height="1" fill="#bdb226"/><rect x="765" y="260" width="1" height="1" fill="#15150a"/><rect x="766" y="260" width="1" height="1" fill="#bdb226"/><rect x="767" y="260" width="1" height="1" fill="#15150a"/><rect x="768" y="260" width="1" height="1" fill="#bdb226"/><rect x="769" y="260" width="1" height="1" fill="#15150a"/><rect x="770" y="260" width="1" height="1" fill="#15150a"/><rect x="771" y="260" width="1" height="1" fill="#15150a"/><rect x="772" y="260" width="1" height="1" fill="#15150a"/><rect x="773" y="260" width="1" height="1" fill="#bdb226"/><rect x="774" y="260" width="1" height="1" fill="#bdb226"/><rect x="749" y="261" width="1" height="1" fill="#15150a"/><rect x="750" y="261" width="1" height="1" fill="#777220"/><rect x="760" y="261" width="1" height="1" fill="#777220"/><rect x="761" y="261" width="1" height="1" fill="#777220"/><rect x="762" y="261" width="1" height="1" fill="#15150a"/><rect x="763" y="261" width="1" height="1" fill="#15150a"/><rect x="764" y="261" width="1" height="1" fill="#15150a"/><rect x="765" y="261" width="1" height="1" fill="#bdb226"/><rect x="766" y="261" width="1" height="1" fill="#bdb226"/><rect x="767" y="261" width="1" height="1" fill="#bdb226"/><rect x="768" y="261" width="1" height="1" fill="#15150a"/><rect x="769" y="261" width="1" height="1" fill="#15150a"/><rect x="770" y="261" width="1" height="1" fill="#15150a"/><rect x="771" y="261" width="1" height="1" fill="#777220"/><rect x="772" y="261" width="1" height="1" fill="#777220"/><rect x="773" y="261" width="1" height="1" fill="#15150a"/><rect x="761" y="262" width="1" height="1" fill="#15150a"/><rect x="762" y="262" width="1" height="1" fill="#15150a"/><rect x="763" y="262" width="1" height="1" fill="#777220"/><rect x="764" y="262" width="1" height="1" fill="#3a3810"/><rect x="765" y="262" width="1" height="1" fill="#bdb226"/><rect x="766" y="262" width="1" height="1" fill="#15150a"/><rect x="767" y="262" width="1" height="1" fill="#bdb226"/><rect x="768" y="262" width="1" height="1" fill="#15150a"/><rect x="769" y="262" width="1" height="1" fill="#777220"/><rect x="770" y="262" width="1" height="1" fill="#15150a"/><rect x="771" y="262" width="1" height="1" fill="#15150a"/><rect x="772" y="262" width="1" height="1" fill="#15150a"/><rect x="773" y="262" width="1" height="1" fill="#777220"/><rect x="761" y="263" width="1" height="1" fill="#3a3810"/><rect x="762" y="263" width="1" height="1" fill="#3a3810"/><rect x="763" y="263" width="1" height="1" fill="#15150a"/><rect x="764" y="263" width="1" height="1" fill="#15150a"/><rect x="765" y="263" width="1" height="1" fill="#15150a"/><rect x="766" y="263" width="1" height="1" fill="#15150a"/><rect x="767" y="263" width="1" height="1" fill="#15150a"/><rect x="768" y="263" width="1" height="1" fill="#15150a"/><rect x="769" y="263" width="1" height="1" fill="#15150a"/><rect x="770" y="263" width="1" height="1" fill="#3a3810"/><rect x="771" y="263" width="1" height="1" fill="#15150a"/><rect x="772" y="263" width="1" height="1" fill="#3a3810"/><rect x="773" y="263" width="1" height="1" fill="#bdb226"/><rect x="763" y="264" width="1" height="1" fill="#15150a"/><rect x="764" y="264" width="1" height="1" fill="#15150a"/><rect x="765" y="264" width="1" height="1" fill="#bdb226"/><rect x="766" y="264" width="1" height="1" fill="#bdb226"/><rect x="767" y="264" width="1" height="1" fill="#15150a"/><rect x="768" y="264" width="1" height="1" fill="#15150a"/><rect x="769" y="264" width="1" height="1" fill="#15150a"/><rect x="770" y="264" width="1" height="1" fill="#bdb226"/><rect x="771" y="264" width="1" height="1" fill="#777220"/><rect x="772" y="264" width="1" height="1" fill="#3a3810"/><rect x="773" y="264" width="1" height="1" fill="#3a3810"/><rect x="761" y="265" width="1" height="1" fill="#15150a"/><rect x="762" y="265" width="1" height="1" fill="#777220"/><rect x="763" y="265" width="1" height="1" fill="#3a3810"/><rect x="764" y="265" width="1" height="1" fill="#777220"/><rect x="765" y="265" width="1" height="1" fill="#3a3810"/><rect x="766" y="265" width="1" height="1" fill="#bdb226"/><rect x="767" y="265" width="1" height="1" fill="#bdb226"/><rect x="768" y="265" width="1" height="1" fill="#15150a"/><rect x="769" y="265" width="1" height="1" fill="#15150a"/><rect x="770" y="265" width="1" height="1" fill="#3a3810"/><rect x="771" y="265" width="1" height="1" fill="#15150a"/><rect x="772" y="265" width="1" height="1" fill="#15150a"/><rect x="773" y="265" width="1" height="1" fill="#bdb226"/><rect x="762" y="266" width="1" height="1" fill="#777220"/><rect x="763" y="266" width="1" height="1" fill="#777220"/><rect x="764" y="266" width="1" height="1" fill="#777220"/><rect x="765" y="266" width="1" height="1" fill="#bdb226"/><rect x="766" y="266" width="1" height="1" fill="#15150a"/><rect x="767" y="266" width="1" height="1" fill="#15150a"/><rect x="768" y="266" width="1" height="1" fill="#777220"/><rect x="769" y="266" width="1" height="1" fill="#15150a"/><rect x="770" y="266" width="1" height="1" fill="#15150a"/><rect x="771" y="266" width="1" height="1" fill="#777220"/><rect x="772" y="266" width="1" height="1" fill="#bdb226"/><rect x="773" y="266" width="1" height="1" fill="#15150a"/><rect x="774" y="266" width="1" height="1" fill="#777220"/><rect x="761" y="267" width="1" height="1" fill="#15150a"/><rect x="762" y="267" width="1" height="1" fill="#15150a"/><rect x="763" y="267" width="1" height="1" fill="#15150a"/><rect x="764" y="267" width="1" height="1" fill="#777220"/><rect x="765" y="267" width="1" height="1" fill="#15150a"/><rect x="766" y="267" width="1" height="1" fill="#3a3810"/><rect x="767" y="267" width="1" height="1" fill="#15150a"/><rect x="768" y="267" width="1" height="1" fill="#777220"/><rect x="769" y="267" width="1" height="1" fill="#777220"/><rect x="770" y="267" width="1" height="1" fill="#3a3810"/><rect x="771" y="267" width="1" height="1" fill="#777220"/><rect x="772" y="267" width="1" height="1" fill="#3a3810"/><rect x="774" y="267" width="1" height="1" fill="#15150a"/><rect x="760" y="268" width="1" height="1" fill="#15150a"/><rect x="761" y="268" width="1" height="1" fill="#777220"/><rect x="762" y="268" width="1" height="1" fill="#15150a"/><rect x="763" y="268" width="1" height="1" fill="#777220"/><rect x="764" y="268" width="1" height="1" fill="#15150a"/><rect x="765" y="268" width="1" height="1" fill="#3a3810"/><rect x="766" y="268" width="1" height="1" fill="#15150a"/><rect x="767" y="268" width="1" height="1" fill="#15150a"/><rect x="768" y="268" width="1" height="1" fill="#777220"/><rect x="769" y="268" width="1" height="1" fill="#15150a"/><rect x="770" y="268" width="1" height="1" fill="#bdb226"/><rect x="771" y="268" width="1" height="1" fill="#15150a"/><rect x="772" y="268" width="1" height="1" fill="#15150a"/><rect x="773" y="268" width="1" height="1" fill="#3a3810"/><rect x="758" y="269" width="1" height="1" fill="#777220"/><rect x="759" y="269" width="1" height="1" fill="#777220"/><rect x="760" y="269" width="1" height="1" fill="#777220"/><rect x="761" y="269" width="1" height="1" fill="#15150a"/><rect x="762" y="269" width="1" height="1" fill="#15150a"/><rect x="763" y="269" width="1" height="1" fill="#3a3810"/><rect x="764" y="269" width="1" height="1" fill="#15150a"/><rect x="765" y="269" width="1" height="1" fill="#777220"/><rect x="766" y="269" width="1" height="1" fill="#777220"/><rect x="767" y="269" width="1" height="1" fill="#3a3810"/><rect x="768" y="269" width="1" height="1" fill="#15150a"/><rect x="769" y="269" width="1" height="1" fill="#3a3810"/><rect x="770" y="269" width="1" height="1" fill="#3a3810"/><rect x="771" y="269" width="1" height="1" fill="#15150a"/><rect x="772" y="269" width="1" height="1" fill="#777220"/><rect x="773" y="269" width="1" height="1" fill="#3a3810"/><rect x="758" y="270" width="1" height="1" fill="#777220"/><rect x="759" y="270" width="1" height="1" fill="#777220"/><rect x="760" y="270" width="1" height="1" fill="#15150a"/><rect x="761" y="270" width="1" height="1" fill="#3a3810"/><rect x="762" y="270" width="1" height="1" fill="#15150a"/><rect x="763" y="270" width="1" height="1" fill="#15150a"/><rect x="764" y="270" width="1" height="1" fill="#bdb226"/><rect x="765" y="270" width="1" height="1" fill="#15150a"/><rect x="766" y="270" width="1" height="1" fill="#777220"/><rect x="767" y="270" width="1" height="1" fill="#15150a"/><rect x="768" y="270" width="1" height="1" fill="#777220"/><rect x="769" y="270" width="1" height="1" fill="#777220"/><rect x="770" y="270" width="1" height="1" fill="#3a3810"/><rect x="771" y="270" width="1" height="1" fill="#15150a"/><rect x="772" y="270" width="1" height="1" fill="#15150a"/><rect x="759" y="271" width="1" height="1" fill="#3a3810"/><rect x="760" y="271" width="1" height="1" fill="#bdb226"/><rect x="761" y="271" width="1" height="1" fill="#15150a"/><rect x="762" y="271" width="1" height="1" fill="#15150a"/><rect x="763" y="271" width="1" height="1" fill="#777220"/><rect x="765" y="271" width="1" height="1" fill="#15150a"/><rect x="766" y="271" width="1" height="1" fill="#15150a"/><rect x="767" y="271" width="1" height="1" fill="#15150a"/><rect x="768" y="271" width="1" height="1" fill="#bdb226"/><rect x="769" y="271" width="1" height="1" fill="#15150a"/><rect x="770" y="271" width="1" height="1" fill="#15150a"/><rect x="771" y="271" width="1" height="1" fill="#bdb226"/><rect x="772" y="271" width="1" height="1" fill="#777220"/><rect x="773" y="271" width="1" height="1" fill="#777220"/><rect x="758" y="272" width="1" height="1" fill="#15150a"/><rect x="760" y="272" width="1" height="1" fill="#bdb226"/><rect x="766" y="272" width="1" height="1" fill="#777220"/><rect x="767" y="272" width="1" height="1" fill="#bdb226"/><rect x="768" y="272" width="1" height="1" fill="#bdb226"/><rect x="769" y="272" width="1" height="1" fill="#3a3810"/><rect x="770" y="272" width="1" height="1" fill="#15150a"/><rect x="771" y="272" width="1" height="1" fill="#15150a"/><rect x="772" y="272" width="1" height="1" fill="#bdb226"/><rect x="760" y="273" width="1" height="1" fill="#777220"/><rect x="761" y="273" width="1" height="1" fill="#15150a"/><rect x="766" y="273" width="1" height="1" fill="#bdb226"/><rect x="767" y="273" width="1" height="1" fill="#bdb226"/><rect x="768" y="273" width="1" height="1" fill="#777220"/><rect x="769" y="273" width="1" height="1" fill="#15150a"/><rect x="770" y="273" width="1" height="1" fill="#15150a"/><rect x="771" y="273" width="1" height="1" fill="#777220"/><rect x="772" y="273" width="1" height="1" fill="#15150a"/><rect x="771" y="274" width="1" height="1" fill="#15150a"/><rect x="772" y="274" width="1" height="1" fill="#15150a"/><rect x="754.6" y="250" width="2" height="1.8" fill="#b52a22"/></g><g transform="translate(699.2 154.5) rotate(-6)"><ellipse rx="3.2" ry="2.5" fill="#5a5616" opacity=".4"/><ellipse cx="-1.45" cy="-.4" rx="1.8" ry="1.3" transform="rotate(-22)" fill="#25240d"/><ellipse cx="1.45" cy="-.4" rx="1.8" ry="1.3" transform="rotate(22)" fill="#25240d"/><rect x="-.6" y="-2.5" width="1.2" height="5.4" fill="#b5aa24"/><circle cy="-.8" r=".65" fill="#d8cc2e"/></g><g transform="translate(704.9 139.9) rotate(26)"><ellipse rx="3.2" ry="2.5" fill="#5a5616" opacity=".4"/><ellipse cx="-1.45" cy="-.4" rx="1.8" ry="1.3" transform="rotate(-22)" fill="#25240d"/><ellipse cx="1.45" cy="-.4" rx="1.8" ry="1.3" transform="rotate(22)" fill="#25240d"/><rect x="-.6" y="-2.5" width="1.2" height="5.4" fill="#b5aa24"/><circle cy="-.8" r=".65" fill="#d8cc2e"/></g><g transform="translate(707.0 144.2) rotate(33)"><ellipse rx="3.2" ry="2.5" fill="#5a5616" opacity=".4"/><ellipse cx="-1.45" cy="-.4" rx="1.8" ry="1.3" transform="rotate(-22)" fill="#25240d"/><ellipse cx="1.45" cy="-.4" rx="1.8" ry="1.3" transform="rotate(22)" fill="#25240d"/><rect x="-.6" y="-2.5" width="1.2" height="5.4" fill="#b5aa24"/><circle cy="-.8" r=".65" fill="#d8cc2e"/></g><g transform="translate(711.3 135.0) rotate(-15)"><ellipse rx="3.2" ry="2.5" fill="#5a5616" opacity=".4"/><ellipse cx="-1.45" cy="-.4" rx="1.8" ry="1.3" transform="rotate(-22)" fill="#25240d"/><ellipse cx="1.45" cy="-.4" rx="1.8" ry="1.3" transform="rotate(22)" fill="#25240d"/><rect x="-.6" y="-2.5" width="1.2" height="5.4" fill="#b5aa24"/><circle cy="-.8" r=".65" fill="#d8cc2e"/></g><g transform="translate(710.6 138.5) rotate(-27)"><ellipse rx="3.2" ry="2.5" fill="#5a5616" opacity=".4"/><ellipse cx="-1.45" cy="-.4" rx="1.8" ry="1.3" transform="rotate(-22)" fill="#25240d"/><ellipse cx="1.45" cy="-.4" rx="1.8" ry="1.3" transform="rotate(22)" fill="#25240d"/><rect x="-.6" y="-2.5" width="1.2" height="5.4" fill="#b5aa24"/><circle cy="-.8" r=".65" fill="#d8cc2e"/></g><g transform="translate(712.7 147.0) rotate(7)"><ellipse rx="3.2" ry="2.5" fill="#5a5616" opacity=".4"/><ellipse cx="-1.45" cy="-.4" rx="1.8" ry="1.3" transform="rotate(-22)" fill="#25240d"/><ellipse cx="1.45" cy="-.4" rx="1.8" ry="1.3" transform="rotate(22)" fill="#25240d"/><rect x="-.6" y="-2.5" width="1.2" height="5.4" fill="#b5aa24"/><circle cy="-.8" r=".65" fill="#d8cc2e"/></g><g transform="translate(716.2 148.4) rotate(12)"><ellipse rx="3.2" ry="2.5" fill="#5a5616" opacity=".4"/><ellipse cx="-1.45" cy="-.4" rx="1.8" ry="1.3" transform="rotate(-22)" fill="#25240d"/><ellipse cx="1.45" cy="-.4" rx="1.8" ry="1.3" transform="rotate(22)" fill="#25240d"/><rect x="-.6" y="-2.5" width="1.2" height="5.4" fill="#b5aa24"/><circle cy="-.8" r=".65" fill="#d8cc2e"/></g><g transform="translate(717.9 129.6) rotate(20)"><ellipse rx="3.2" ry="2.5" fill="#5a5616" opacity=".4"/><ellipse cx="-1.45" cy="-.4" rx="1.8" ry="1.3" transform="rotate(-22)" fill="#25240d"/><ellipse cx="1.45" cy="-.4" rx="1.8" ry="1.3" transform="rotate(22)" fill="#25240d"/><rect x="-.6" y="-2.5" width="1.2" height="5.4" fill="#b5aa24"/><circle cy="-.8" r=".65" fill="#d8cc2e"/></g><g transform="translate(724.8 126.4) rotate(10)"><ellipse rx="3.2" ry="2.5" fill="#5a5616" opacity=".4"/><ellipse cx="-1.45" cy="-.4" rx="1.8" ry="1.3" transform="rotate(-22)" fill="#25240d"/><ellipse cx="1.45" cy="-.4" rx="1.8" ry="1.3" transform="rotate(22)" fill="#25240d"/><rect x="-.6" y="-2.5" width="1.2" height="5.4" fill="#b5aa24"/><circle cy="-.8" r=".65" fill="#d8cc2e"/></g><g transform="translate(727.6 127.1) rotate(15)"><ellipse rx="3.2" ry="2.5" fill="#5a5616" opacity=".4"/><ellipse cx="-1.45" cy="-.4" rx="1.8" ry="1.3" transform="rotate(-22)" fill="#25240d"/><ellipse cx="1.45" cy="-.4" rx="1.8" ry="1.3" transform="rotate(22)" fill="#25240d"/><rect x="-.6" y="-2.5" width="1.2" height="5.4" fill="#b5aa24"/><circle cy="-.8" r=".65" fill="#d8cc2e"/></g><g transform="translate(731.8 123.3) rotate(29)"><ellipse rx="3.2" ry="2.5" fill="#5a5616" opacity=".4"/><ellipse cx="-1.45" cy="-.4" rx="1.8" ry="1.3" transform="rotate(-22)" fill="#25240d"/><ellipse cx="1.45" cy="-.4" rx="1.8" ry="1.3" transform="rotate(22)" fill="#25240d"/><rect x="-.6" y="-2.5" width="1.2" height="5.4" fill="#b5aa24"/><circle cy="-.8" r=".65" fill="#d8cc2e"/></g><g transform="translate(740.4 120.1) rotate(29)"><ellipse rx="3.2" ry="2.5" fill="#5a5616" opacity=".4"/><ellipse cx="-1.45" cy="-.4" rx="1.8" ry="1.3" transform="rotate(-22)" fill="#25240d"/><ellipse cx="1.45" cy="-.4" rx="1.8" ry="1.3" transform="rotate(22)" fill="#25240d"/><rect x="-.6" y="-2.5" width="1.2" height="5.4" fill="#b5aa24"/><circle cy="-.8" r=".65" fill="#d8cc2e"/></g><g transform="translate(746.7 119.3) rotate(30)"><ellipse rx="3.2" ry="2.5" fill="#5a5616" opacity=".4"/><ellipse cx="-1.45" cy="-.4" rx="1.8" ry="1.3" transform="rotate(-22)" fill="#25240d"/><ellipse cx="1.45" cy="-.4" rx="1.8" ry="1.3" transform="rotate(22)" fill="#25240d"/><rect x="-.6" y="-2.5" width="1.2" height="5.4" fill="#b5aa24"/><circle cy="-.8" r=".65" fill="#d8cc2e"/></g><g transform="translate(753.8 117.6) rotate(26)"><ellipse rx="3.2" ry="2.5" fill="#5a5616" opacity=".4"/><ellipse cx="-1.45" cy="-.4" rx="1.8" ry="1.3" transform="rotate(-22)" fill="#25240d"/><ellipse cx="1.45" cy="-.4" rx="1.8" ry="1.3" transform="rotate(22)" fill="#25240d"/><rect x="-.6" y="-2.5" width="1.2" height="5.4" fill="#b5aa24"/><circle cy="-.8" r=".65" fill="#d8cc2e"/></g><g transform="translate(759.5 116.8) rotate(16)"><ellipse rx="3.1" ry="2.3" fill="#3c3a12" opacity=".4"/><ellipse cx="-1.4" cy="-.3" rx="1.8" ry="1.35" transform="rotate(-22)" fill="#1f1f0e"/><ellipse cx="1.4" cy="-.3" rx="1.8" ry="1.35" transform="rotate(22)" fill="#1f1f0e"/><rect x="-.6" y="-2.2" width="1.2" height="4.8" fill="#4d4a18"/></g><g transform="translate(764.5 116.5) rotate(30)"><ellipse rx="3.1" ry="2.3" fill="#3c3a12" opacity=".4"/><ellipse cx="-1.4" cy="-.3" rx="1.8" ry="1.35" transform="rotate(-22)" fill="#1f1f0e"/><ellipse cx="1.4" cy="-.3" rx="1.8" ry="1.35" transform="rotate(22)" fill="#1f1f0e"/><rect x="-.6" y="-2.2" width="1.2" height="4.8" fill="#4d4a18"/></g><g transform="translate(772.7 121.2) rotate(-35)"><ellipse rx="3.2" ry="2.5" fill="#5a5616" opacity=".4"/><ellipse cx="-1.45" cy="-.4" rx="1.8" ry="1.3" transform="rotate(-22)" fill="#25240d"/><ellipse cx="1.45" cy="-.4" rx="1.8" ry="1.3" transform="rotate(22)" fill="#25240d"/><rect x="-.6" y="-2.5" width="1.2" height="5.4" fill="#b5aa24"/><circle cy="-.8" r=".65" fill="#d8cc2e"/></g><g transform="translate(763.0 125.7) rotate(-34)"><ellipse rx="3.2" ry="2.5" fill="#5a5616" opacity=".4"/><ellipse cx="-1.45" cy="-.4" rx="1.8" ry="1.3" transform="rotate(-22)" fill="#25240d"/><ellipse cx="1.45" cy="-.4" rx="1.8" ry="1.3" transform="rotate(22)" fill="#25240d"/><rect x="-.6" y="-2.5" width="1.2" height="5.4" fill="#b5aa24"/><circle cy="-.8" r=".65" fill="#d8cc2e"/></g><g transform="translate(764.5 128.6) rotate(21)"><ellipse rx="3.2" ry="2.5" fill="#5a5616" opacity=".4"/><ellipse cx="-1.45" cy="-.4" rx="1.8" ry="1.3" transform="rotate(-22)" fill="#25240d"/><ellipse cx="1.45" cy="-.4" rx="1.8" ry="1.3" transform="rotate(22)" fill="#25240d"/><rect x="-.6" y="-2.5" width="1.2" height="5.4" fill="#b5aa24"/><circle cy="-.8" r=".65" fill="#d8cc2e"/></g><g transform="translate(751.0 130.0) rotate(-4)"><ellipse rx="3.2" ry="2.5" fill="#5a5616" opacity=".4"/><ellipse cx="-1.45" cy="-.4" rx="1.8" ry="1.3" transform="rotate(-22)" fill="#25240d"/><ellipse cx="1.45" cy="-.4" rx="1.8" ry="1.3" transform="rotate(22)" fill="#25240d"/><rect x="-.6" y="-2.5" width="1.2" height="5.4" fill="#b5aa24"/><circle cy="-.8" r=".65" fill="#d8cc2e"/></g><g transform="translate(736.1 137.8) rotate(18)"><ellipse rx="3.2" ry="2.5" fill="#5a5616" opacity=".4"/><ellipse cx="-1.45" cy="-.4" rx="1.8" ry="1.3" transform="rotate(-22)" fill="#25240d"/><ellipse cx="1.45" cy="-.4" rx="1.8" ry="1.3" transform="rotate(22)" fill="#25240d"/><rect x="-.6" y="-2.5" width="1.2" height="5.4" fill="#b5aa24"/><circle cy="-.8" r=".65" fill="#d8cc2e"/></g><g transform="translate(786.5 128.6) rotate(-1)"><ellipse rx="3.2" ry="2.5" fill="#5a5616" opacity=".4"/><ellipse cx="-1.45" cy="-.4" rx="1.8" ry="1.3" transform="rotate(-22)" fill="#25240d"/><ellipse cx="1.45" cy="-.4" rx="1.8" ry="1.3" transform="rotate(22)" fill="#25240d"/><rect x="-.6" y="-2.5" width="1.2" height="5.4" fill="#b5aa24"/><circle cy="-.8" r=".65" fill="#d8cc2e"/></g><g transform="translate(768.0 150.3) rotate(29)"><ellipse rx="3.2" ry="2.5" fill="#5a5616" opacity=".4"/><ellipse cx="-1.45" cy="-.4" rx="1.8" ry="1.3" transform="rotate(-22)" fill="#25240d"/><ellipse cx="1.45" cy="-.4" rx="1.8" ry="1.3" transform="rotate(22)" fill="#25240d"/><rect x="-.6" y="-2.5" width="1.2" height="5.4" fill="#b5aa24"/><circle cy="-.8" r=".65" fill="#d8cc2e"/></g><g transform="translate(778.9 151.0) rotate(-31)"><ellipse rx="3.2" ry="2.5" fill="#5a5616" opacity=".4"/><ellipse cx="-1.45" cy="-.4" rx="1.8" ry="1.3" transform="rotate(-22)" fill="#25240d"/><ellipse cx="1.45" cy="-.4" rx="1.8" ry="1.3" transform="rotate(22)" fill="#25240d"/><rect x="-.6" y="-2.5" width="1.2" height="5.4" fill="#b5aa24"/><circle cy="-.8" r=".65" fill="#d8cc2e"/></g><g transform="translate(739.4 159.8) rotate(12)"><ellipse rx="3.2" ry="2.5" fill="#5a5616" opacity=".4"/><ellipse cx="-1.45" cy="-.4" rx="1.8" ry="1.3" transform="rotate(-22)" fill="#25240d"/><ellipse cx="1.45" cy="-.4" rx="1.8" ry="1.3" transform="rotate(22)" fill="#25240d"/><rect x="-.6" y="-2.5" width="1.2" height="5.4" fill="#b5aa24"/><circle cy="-.8" r=".65" fill="#d8cc2e"/></g><g transform="translate(785.0 166.2) rotate(-35)"><ellipse rx="3.2" ry="2.5" fill="#5a5616" opacity=".4"/><ellipse cx="-1.45" cy="-.4" rx="1.8" ry="1.3" transform="rotate(-22)" fill="#25240d"/><ellipse cx="1.45" cy="-.4" rx="1.8" ry="1.3" transform="rotate(22)" fill="#25240d"/><rect x="-.6" y="-2.5" width="1.2" height="5.4" fill="#b5aa24"/><circle cy="-.8" r=".65" fill="#d8cc2e"/></g><g transform="translate(797.0 118.6) rotate(-25)"><ellipse rx="3.1" ry="2.3" fill="#3c3a12" opacity=".4"/><ellipse cx="-1.4" cy="-.3" rx="1.8" ry="1.35" transform="rotate(-22)" fill="#1f1f0e"/><ellipse cx="1.4" cy="-.3" rx="1.8" ry="1.35" transform="rotate(22)" fill="#1f1f0e"/><rect x="-.6" y="-2.2" width="1.2" height="4.8" fill="#4d4a18"/></g><g transform="translate(817.1 119.4) rotate(23)"><ellipse rx="3.1" ry="2.3" fill="#3c3a12" opacity=".4"/><ellipse cx="-1.4" cy="-.3" rx="1.8" ry="1.35" transform="rotate(-22)" fill="#1f1f0e"/><ellipse cx="1.4" cy="-.3" rx="1.8" ry="1.35" transform="rotate(22)" fill="#1f1f0e"/><rect x="-.6" y="-2.2" width="1.2" height="4.8" fill="#4d4a18"/></g><g transform="translate(795.8 125.4) rotate(-15)"><ellipse rx="3.2" ry="2.5" fill="#5a5616" opacity=".4"/><ellipse cx="-1.45" cy="-.4" rx="1.8" ry="1.3" transform="rotate(-22)" fill="#25240d"/><ellipse cx="1.45" cy="-.4" rx="1.8" ry="1.3" transform="rotate(22)" fill="#25240d"/><rect x="-.6" y="-2.5" width="1.2" height="5.4" fill="#b5aa24"/><circle cy="-.8" r=".65" fill="#d8cc2e"/></g><g transform="translate(803.8 125.4) rotate(34)"><ellipse rx="3.2" ry="2.5" fill="#5a5616" opacity=".4"/><ellipse cx="-1.45" cy="-.4" rx="1.8" ry="1.3" transform="rotate(-22)" fill="#25240d"/><ellipse cx="1.45" cy="-.4" rx="1.8" ry="1.3" transform="rotate(22)" fill="#25240d"/><rect x="-.6" y="-2.5" width="1.2" height="5.4" fill="#b5aa24"/><circle cy="-.8" r=".65" fill="#d8cc2e"/></g><g transform="translate(806.9 130.1) rotate(-11)"><ellipse rx="3.2" ry="2.5" fill="#5a5616" opacity=".4"/><ellipse cx="-1.45" cy="-.4" rx="1.8" ry="1.3" transform="rotate(-22)" fill="#25240d"/><ellipse cx="1.45" cy="-.4" rx="1.8" ry="1.3" transform="rotate(22)" fill="#25240d"/><rect x="-.6" y="-2.5" width="1.2" height="5.4" fill="#b5aa24"/><circle cy="-.8" r=".65" fill="#d8cc2e"/></g><g transform="translate(831.9 132.7) rotate(20)"><ellipse rx="3.1" ry="2.3" fill="#3c3a12" opacity=".4"/><ellipse cx="-1.4" cy="-.3" rx="1.8" ry="1.35" transform="rotate(-22)" fill="#1f1f0e"/><ellipse cx="1.4" cy="-.3" rx="1.8" ry="1.35" transform="rotate(22)" fill="#1f1f0e"/><rect x="-.6" y="-2.2" width="1.2" height="4.8" fill="#4d4a18"/></g><g transform="translate(801.3 142.0) rotate(33)"><ellipse rx="3.2" ry="2.5" fill="#5a5616" opacity=".4"/><ellipse cx="-1.45" cy="-.4" rx="1.8" ry="1.3" transform="rotate(-22)" fill="#25240d"/><ellipse cx="1.45" cy="-.4" rx="1.8" ry="1.3" transform="rotate(22)" fill="#25240d"/><rect x="-.6" y="-2.5" width="1.2" height="5.4" fill="#b5aa24"/><circle cy="-.8" r=".65" fill="#d8cc2e"/></g><g transform="translate(795.0 161.1) rotate(-13)"><ellipse rx="3.2" ry="2.5" fill="#5a5616" opacity=".4"/><ellipse cx="-1.45" cy="-.4" rx="1.8" ry="1.3" transform="rotate(-22)" fill="#25240d"/><ellipse cx="1.45" cy="-.4" rx="1.8" ry="1.3" transform="rotate(22)" fill="#25240d"/><rect x="-.6" y="-2.5" width="1.2" height="5.4" fill="#b5aa24"/><circle cy="-.8" r=".65" fill="#d8cc2e"/></g><g transform="translate(883.8 156.5) rotate(34)"><ellipse rx="3.1" ry="2.3" fill="#3c3a12" opacity=".4"/><ellipse cx="-1.4" cy="-.3" rx="1.8" ry="1.35" transform="rotate(-22)" fill="#1f1f0e"/><ellipse cx="1.4" cy="-.3" rx="1.8" ry="1.35" transform="rotate(22)" fill="#1f1f0e"/><rect x="-.6" y="-2.2" width="1.2" height="4.8" fill="#4d4a18"/></g><g transform="translate(665.7 175.2) rotate(15)"><ellipse rx="3.1" ry="2.3" fill="#3c3a12" opacity=".4"/><ellipse cx="-1.4" cy="-.3" rx="1.8" ry="1.35" transform="rotate(-22)" fill="#1f1f0e"/><ellipse cx="1.4" cy="-.3" rx="1.8" ry="1.35" transform="rotate(22)" fill="#1f1f0e"/><rect x="-.6" y="-2.2" width="1.2" height="4.8" fill="#4d4a18"/></g><g transform="translate(697.7 178.1) rotate(33)"><ellipse rx="3.1" ry="2.3" fill="#3c3a12" opacity=".4"/><ellipse cx="-1.4" cy="-.3" rx="1.8" ry="1.35" transform="rotate(-22)" fill="#1f1f0e"/><ellipse cx="1.4" cy="-.3" rx="1.8" ry="1.35" transform="rotate(22)" fill="#1f1f0e"/><rect x="-.6" y="-2.2" width="1.2" height="4.8" fill="#4d4a18"/></g><g transform="translate(709.7 171.3) rotate(-14)"><ellipse rx="3.2" ry="2.5" fill="#5a5616" opacity=".4"/><ellipse cx="-1.45" cy="-.4" rx="1.8" ry="1.3" transform="rotate(-22)" fill="#25240d"/><ellipse cx="1.45" cy="-.4" rx="1.8" ry="1.3" transform="rotate(22)" fill="#25240d"/><rect x="-.6" y="-2.5" width="1.2" height="5.4" fill="#b5aa24"/><circle cy="-.8" r=".65" fill="#d8cc2e"/></g><g transform="translate(715.1 173.0) rotate(1)"><ellipse rx="3.2" ry="2.5" fill="#5a5616" opacity=".4"/><ellipse cx="-1.45" cy="-.4" rx="1.8" ry="1.3" transform="rotate(-22)" fill="#25240d"/><ellipse cx="1.45" cy="-.4" rx="1.8" ry="1.3" transform="rotate(22)" fill="#25240d"/><rect x="-.6" y="-2.5" width="1.2" height="5.4" fill="#b5aa24"/><circle cy="-.8" r=".65" fill="#d8cc2e"/></g><g transform="translate(718.5 172.1) rotate(17)"><ellipse rx="3.2" ry="2.5" fill="#5a5616" opacity=".4"/><ellipse cx="-1.45" cy="-.4" rx="1.8" ry="1.3" transform="rotate(-22)" fill="#25240d"/><ellipse cx="1.45" cy="-.4" rx="1.8" ry="1.3" transform="rotate(22)" fill="#25240d"/><rect x="-.6" y="-2.5" width="1.2" height="5.4" fill="#b5aa24"/><circle cy="-.8" r=".65" fill="#d8cc2e"/></g><g transform="translate(734.3 176.7) rotate(33)"><ellipse rx="3.2" ry="2.5" fill="#5a5616" opacity=".4"/><ellipse cx="-1.45" cy="-.4" rx="1.8" ry="1.3" transform="rotate(-22)" fill="#25240d"/><ellipse cx="1.45" cy="-.4" rx="1.8" ry="1.3" transform="rotate(22)" fill="#25240d"/><rect x="-.6" y="-2.5" width="1.2" height="5.4" fill="#b5aa24"/><circle cy="-.8" r=".65" fill="#d8cc2e"/></g><g transform="translate(729.9 190.0) rotate(-16)"><ellipse rx="3.2" ry="2.5" fill="#5a5616" opacity=".4"/><ellipse cx="-1.45" cy="-.4" rx="1.8" ry="1.3" transform="rotate(-22)" fill="#25240d"/><ellipse cx="1.45" cy="-.4" rx="1.8" ry="1.3" transform="rotate(22)" fill="#25240d"/><rect x="-.6" y="-2.5" width="1.2" height="5.4" fill="#b5aa24"/><circle cy="-.8" r=".65" fill="#d8cc2e"/></g><g transform="translate(723.6 196.3) rotate(-1)"><ellipse rx="3.2" ry="2.5" fill="#5a5616" opacity=".4"/><ellipse cx="-1.45" cy="-.4" rx="1.8" ry="1.3" transform="rotate(-22)" fill="#25240d"/><ellipse cx="1.45" cy="-.4" rx="1.8" ry="1.3" transform="rotate(22)" fill="#25240d"/><rect x="-.6" y="-2.5" width="1.2" height="5.4" fill="#b5aa24"/><circle cy="-.8" r=".65" fill="#d8cc2e"/></g><g transform="translate(737.6 198.5) rotate(20)"><ellipse rx="3.2" ry="2.5" fill="#5a5616" opacity=".4"/><ellipse cx="-1.45" cy="-.4" rx="1.8" ry="1.3" transform="rotate(-22)" fill="#25240d"/><ellipse cx="1.45" cy="-.4" rx="1.8" ry="1.3" transform="rotate(22)" fill="#25240d"/><rect x="-.6" y="-2.5" width="1.2" height="5.4" fill="#b5aa24"/><circle cy="-.8" r=".65" fill="#d8cc2e"/></g><g transform="translate(730.9 201.6) rotate(24)"><ellipse rx="3.2" ry="2.5" fill="#5a5616" opacity=".4"/><ellipse cx="-1.45" cy="-.4" rx="1.8" ry="1.3" transform="rotate(-22)" fill="#25240d"/><ellipse cx="1.45" cy="-.4" rx="1.8" ry="1.3" transform="rotate(22)" fill="#25240d"/><rect x="-.6" y="-2.5" width="1.2" height="5.4" fill="#b5aa24"/><circle cy="-.8" r=".65" fill="#d8cc2e"/></g><g transform="translate(716.0 210.4) rotate(35)"><ellipse rx="3.2" ry="2.5" fill="#5a5616" opacity=".4"/><ellipse cx="-1.45" cy="-.4" rx="1.8" ry="1.3" transform="rotate(-22)" fill="#25240d"/><ellipse cx="1.45" cy="-.4" rx="1.8" ry="1.3" transform="rotate(22)" fill="#25240d"/><rect x="-.6" y="-2.5" width="1.2" height="5.4" fill="#b5aa24"/><circle cy="-.8" r=".65" fill="#d8cc2e"/></g><g transform="translate(653.0 196.3) rotate(-20)"><ellipse rx="3.1" ry="2.3" fill="#3c3a12" opacity=".4"/><ellipse cx="-1.4" cy="-.3" rx="1.8" ry="1.35" transform="rotate(-22)" fill="#1f1f0e"/><ellipse cx="1.4" cy="-.3" rx="1.8" ry="1.35" transform="rotate(22)" fill="#1f1f0e"/><rect x="-.6" y="-2.2" width="1.2" height="4.8" fill="#4d4a18"/></g><g transform="translate(652.5 201.9) rotate(35)"><ellipse rx="3.1" ry="2.3" fill="#3c3a12" opacity=".4"/><ellipse cx="-1.4" cy="-.3" rx="1.8" ry="1.35" transform="rotate(-22)" fill="#1f1f0e"/><ellipse cx="1.4" cy="-.3" rx="1.8" ry="1.35" transform="rotate(22)" fill="#1f1f0e"/><rect x="-.6" y="-2.2" width="1.2" height="4.8" fill="#4d4a18"/></g><g transform="translate(756.7 178.4) rotate(-27)"><ellipse rx="3.2" ry="2.5" fill="#5a5616" opacity=".4"/><ellipse cx="-1.45" cy="-.4" rx="1.8" ry="1.3" transform="rotate(-22)" fill="#25240d"/><ellipse cx="1.45" cy="-.4" rx="1.8" ry="1.3" transform="rotate(22)" fill="#25240d"/><rect x="-.6" y="-2.5" width="1.2" height="5.4" fill="#b5aa24"/><circle cy="-.8" r=".65" fill="#d8cc2e"/></g><g transform="translate(641.1 225.7) rotate(27)"><ellipse rx="3.1" ry="2.3" fill="#3c3a12" opacity=".4"/><ellipse cx="-1.4" cy="-.3" rx="1.8" ry="1.35" transform="rotate(-22)" fill="#1f1f0e"/><ellipse cx="1.4" cy="-.3" rx="1.8" ry="1.35" transform="rotate(22)" fill="#1f1f0e"/><rect x="-.6" y="-2.2" width="1.2" height="4.8" fill="#4d4a18"/></g><g transform="translate(637.2 260.4) rotate(26)"><ellipse rx="3.1" ry="2.3" fill="#3c3a12" opacity=".4"/><ellipse cx="-1.4" cy="-.3" rx="1.8" ry="1.35" transform="rotate(-22)" fill="#1f1f0e"/><ellipse cx="1.4" cy="-.3" rx="1.8" ry="1.35" transform="rotate(22)" fill="#1f1f0e"/><rect x="-.6" y="-2.2" width="1.2" height="4.8" fill="#4d4a18"/></g><g transform="translate(641.5 266.3) rotate(29)"><ellipse rx="3.1" ry="2.3" fill="#3c3a12" opacity=".4"/><ellipse cx="-1.4" cy="-.3" rx="1.8" ry="1.35" transform="rotate(-22)" fill="#1f1f0e"/><ellipse cx="1.4" cy="-.3" rx="1.8" ry="1.35" transform="rotate(22)" fill="#1f1f0e"/><rect x="-.6" y="-2.2" width="1.2" height="4.8" fill="#4d4a18"/></g><g transform="translate(638.2 272.7) rotate(27)"><ellipse rx="3.1" ry="2.3" fill="#3c3a12" opacity=".4"/><ellipse cx="-1.4" cy="-.3" rx="1.8" ry="1.35" transform="rotate(-22)" fill="#1f1f0e"/><ellipse cx="1.4" cy="-.3" rx="1.8" ry="1.35" transform="rotate(22)" fill="#1f1f0e"/><rect x="-.6" y="-2.2" width="1.2" height="4.8" fill="#4d4a18"/></g><g transform="translate(653.5 284.7) rotate(15)"><ellipse rx="3.1" ry="2.3" fill="#3c3a12" opacity=".4"/><ellipse cx="-1.4" cy="-.3" rx="1.8" ry="1.35" transform="rotate(-22)" fill="#1f1f0e"/><ellipse cx="1.4" cy="-.3" rx="1.8" ry="1.35" transform="rotate(22)" fill="#1f1f0e"/><rect x="-.6" y="-2.2" width="1.2" height="4.8" fill="#4d4a18"/></g><g transform="translate(642.8 298.8) rotate(6)"><ellipse rx="3.1" ry="2.3" fill="#3c3a12" opacity=".4"/><ellipse cx="-1.4" cy="-.3" rx="1.8" ry="1.35" transform="rotate(-22)" fill="#1f1f0e"/><ellipse cx="1.4" cy="-.3" rx="1.8" ry="1.35" transform="rotate(22)" fill="#1f1f0e"/><rect x="-.6" y="-2.2" width="1.2" height="4.8" fill="#4d4a18"/></g><g transform="translate(696.8 268.1) rotate(4)"><ellipse rx="3.2" ry="2.5" fill="#5a5616" opacity=".4"/><ellipse cx="-1.45" cy="-.4" rx="1.8" ry="1.3" transform="rotate(-22)" fill="#25240d"/><ellipse cx="1.45" cy="-.4" rx="1.8" ry="1.3" transform="rotate(22)" fill="#25240d"/><rect x="-.6" y="-2.5" width="1.2" height="5.4" fill="#b5aa24"/><circle cy="-.8" r=".65" fill="#d8cc2e"/></g><g transform="translate(698.6 274.6) rotate(-30)"><ellipse rx="3.2" ry="2.5" fill="#5a5616" opacity=".4"/><ellipse cx="-1.45" cy="-.4" rx="1.8" ry="1.3" transform="rotate(-22)" fill="#25240d"/><ellipse cx="1.45" cy="-.4" rx="1.8" ry="1.3" transform="rotate(22)" fill="#25240d"/><rect x="-.6" y="-2.5" width="1.2" height="5.4" fill="#b5aa24"/><circle cy="-.8" r=".65" fill="#d8cc2e"/></g><g transform="translate(702.3 272.7) rotate(30)"><ellipse rx="3.2" ry="2.5" fill="#5a5616" opacity=".4"/><ellipse cx="-1.45" cy="-.4" rx="1.8" ry="1.3" transform="rotate(-22)" fill="#25240d"/><ellipse cx="1.45" cy="-.4" rx="1.8" ry="1.3" transform="rotate(22)" fill="#25240d"/><rect x="-.6" y="-2.5" width="1.2" height="5.4" fill="#b5aa24"/><circle cy="-.8" r=".65" fill="#d8cc2e"/></g><g transform="translate(656.9 315.5) rotate(30)"><ellipse rx="3.1" ry="2.3" fill="#3c3a12" opacity=".4"/><ellipse cx="-1.4" cy="-.3" rx="1.8" ry="1.35" transform="rotate(-22)" fill="#1f1f0e"/><ellipse cx="1.4" cy="-.3" rx="1.8" ry="1.35" transform="rotate(22)" fill="#1f1f0e"/><rect x="-.6" y="-2.2" width="1.2" height="4.8" fill="#4d4a18"/></g><g transform="translate(685.8 375.9) rotate(-40)"><ellipse cy="-.4" rx="3.8" ry="2.2" fill="#34310f"/><rect x="-1.1" y="-3.4" width="2.2" height="7.2" fill="#e4d620"/><rect x="-3" y="-.9" width="6" height="1.2" fill="#b8aa1c"/></g><g transform="translate(923.3 303.2) rotate(7)"><ellipse rx="3.1" ry="2.3" fill="#3c3a12" opacity=".4"/><ellipse cx="-1.4" cy="-.3" rx="1.8" ry="1.35" transform="rotate(-22)" fill="#1f1f0e"/><ellipse cx="1.4" cy="-.3" rx="1.8" ry="1.35" transform="rotate(22)" fill="#1f1f0e"/><rect x="-.6" y="-2.2" width="1.2" height="4.8" fill="#4d4a18"/></g><g transform="translate(916.7 314.6) rotate(-9)"><ellipse rx="3.1" ry="2.3" fill="#3c3a12" opacity=".4"/><ellipse cx="-1.4" cy="-.3" rx="1.8" ry="1.35" transform="rotate(-22)" fill="#1f1f0e"/><ellipse cx="1.4" cy="-.3" rx="1.8" ry="1.35" transform="rotate(22)" fill="#1f1f0e"/><rect x="-.6" y="-2.2" width="1.2" height="4.8" fill="#4d4a18"/></g><g transform="translate(896.0 345.5) rotate(17)"><ellipse rx="3.1" ry="2.3" fill="#3c3a12" opacity=".4"/><ellipse cx="-1.4" cy="-.3" rx="1.8" ry="1.35" transform="rotate(-22)" fill="#1f1f0e"/><ellipse cx="1.4" cy="-.3" rx="1.8" ry="1.35" transform="rotate(22)" fill="#1f1f0e"/><rect x="-.6" y="-2.2" width="1.2" height="4.8" fill="#4d4a18"/></g><g transform="translate(882.3 359.3) rotate(8)"><ellipse rx="3.1" ry="2.3" fill="#3c3a12" opacity=".4"/><ellipse cx="-1.4" cy="-.3" rx="1.8" ry="1.35" transform="rotate(-22)" fill="#1f1f0e"/><ellipse cx="1.4" cy="-.3" rx="1.8" ry="1.35" transform="rotate(22)" fill="#1f1f0e"/><rect x="-.6" y="-2.2" width="1.2" height="4.8" fill="#4d4a18"/></g><g transform="translate(874.1 371.5) rotate(6)"><ellipse rx="3.1" ry="2.3" fill="#3c3a12" opacity=".4"/><ellipse cx="-1.4" cy="-.3" rx="1.8" ry="1.35" transform="rotate(-22)" fill="#1f1f0e"/><ellipse cx="1.4" cy="-.3" rx="1.8" ry="1.35" transform="rotate(22)" fill="#1f1f0e"/><rect x="-.6" y="-2.2" width="1.2" height="4.8" fill="#4d4a18"/></g><g transform="translate(864.0 383.4) rotate(-2)"><ellipse rx="3.1" ry="2.3" fill="#3c3a12" opacity=".4"/><ellipse cx="-1.4" cy="-.3" rx="1.8" ry="1.35" transform="rotate(-22)" fill="#1f1f0e"/><ellipse cx="1.4" cy="-.3" rx="1.8" ry="1.35" transform="rotate(22)" fill="#1f1f0e"/><rect x="-.6" y="-2.2" width="1.2" height="4.8" fill="#4d4a18"/></g><g transform="translate(827.2 373.8) rotate(-28)"><ellipse rx="3.1" ry="2.3" fill="#3c3a12" opacity=".4"/><ellipse cx="-1.4" cy="-.3" rx="1.8" ry="1.35" transform="rotate(-22)" fill="#1f1f0e"/><ellipse cx="1.4" cy="-.3" rx="1.8" ry="1.35" transform="rotate(22)" fill="#1f1f0e"/><rect x="-.6" y="-2.2" width="1.2" height="4.8" fill="#4d4a18"/></g><g transform="translate(820.3 393.2) rotate(21)"><ellipse rx="3.1" ry="2.3" fill="#3c3a12" opacity=".4"/><ellipse cx="-1.4" cy="-.3" rx="1.8" ry="1.35" transform="rotate(-22)" fill="#1f1f0e"/><ellipse cx="1.4" cy="-.3" rx="1.8" ry="1.35" transform="rotate(22)" fill="#1f1f0e"/><rect x="-.6" y="-2.2" width="1.2" height="4.8" fill="#4d4a18"/></g><g transform="translate(828.0 401.1) rotate(27)"><ellipse rx="3.1" ry="2.3" fill="#3c3a12" opacity=".4"/><ellipse cx="-1.4" cy="-.3" rx="1.8" ry="1.35" transform="rotate(-22)" fill="#1f1f0e"/><ellipse cx="1.4" cy="-.3" rx="1.8" ry="1.35" transform="rotate(22)" fill="#1f1f0e"/><rect x="-.6" y="-2.2" width="1.2" height="4.8" fill="#4d4a18"/></g><g transform="translate(788.3 402.2) rotate(-22)"><ellipse rx="3.1" ry="2.3" fill="#3c3a12" opacity=".4"/><ellipse cx="-1.4" cy="-.3" rx="1.8" ry="1.35" transform="rotate(-22)" fill="#1f1f0e"/><ellipse cx="1.4" cy="-.3" rx="1.8" ry="1.35" transform="rotate(22)" fill="#1f1f0e"/><rect x="-.6" y="-2.2" width="1.2" height="4.8" fill="#4d4a18"/></g><g transform="translate(928.4 231.2) rotate(-2)"><ellipse rx="3.1" ry="2.3" fill="#3c3a12" opacity=".4"/><ellipse cx="-1.4" cy="-.3" rx="1.8" ry="1.35" transform="rotate(-22)" fill="#1f1f0e"/><ellipse cx="1.4" cy="-.3" rx="1.8" ry="1.35" transform="rotate(22)" fill="#1f1f0e"/><rect x="-.6" y="-2.2" width="1.2" height="4.8" fill="#4d4a18"/></g><g transform="translate(925.5 246.0) rotate(-31)"><ellipse rx="3.1" ry="2.3" fill="#3c3a12" opacity=".4"/><ellipse cx="-1.4" cy="-.3" rx="1.8" ry="1.35" transform="rotate(-22)" fill="#1f1f0e"/><ellipse cx="1.4" cy="-.3" rx="1.8" ry="1.35" transform="rotate(22)" fill="#1f1f0e"/><rect x="-.6" y="-2.2" width="1.2" height="4.8" fill="#4d4a18"/></g><g transform="translate(920.3 257.2) rotate(-4)"><ellipse rx="3.1" ry="2.3" fill="#3c3a12" opacity=".4"/><ellipse cx="-1.4" cy="-.3" rx="1.8" ry="1.35" transform="rotate(-22)" fill="#1f1f0e"/><ellipse cx="1.4" cy="-.3" rx="1.8" ry="1.35" transform="rotate(22)" fill="#1f1f0e"/><rect x="-.6" y="-2.2" width="1.2" height="4.8" fill="#4d4a18"/></g><g transform="translate(798.6 271.6) rotate(-27)"><ellipse rx="3.2" ry="2.5" fill="#5a5616" opacity=".4"/><ellipse cx="-1.45" cy="-.4" rx="1.8" ry="1.3" transform="rotate(-22)" fill="#25240d"/><ellipse cx="1.45" cy="-.4" rx="1.8" ry="1.3" transform="rotate(22)" fill="#25240d"/><rect x="-.6" y="-2.5" width="1.2" height="5.4" fill="#b5aa24"/><circle cy="-.8" r=".65" fill="#d8cc2e"/></g><g transform="translate(784.5 283.1) rotate(-6)"><ellipse rx="3.2" ry="2.5" fill="#5a5616" opacity=".4"/><ellipse cx="-1.45" cy="-.4" rx="1.8" ry="1.3" transform="rotate(-22)" fill="#25240d"/><ellipse cx="1.45" cy="-.4" rx="1.8" ry="1.3" transform="rotate(22)" fill="#25240d"/><rect x="-.6" y="-2.5" width="1.2" height="5.4" fill="#b5aa24"/><circle cy="-.8" r=".65" fill="#d8cc2e"/></g><g transform="translate(792.7 242.0) rotate(33)"><ellipse rx="3.2" ry="2.5" fill="#5a5616" opacity=".4"/><ellipse cx="-1.45" cy="-.4" rx="1.8" ry="1.3" transform="rotate(-22)" fill="#25240d"/><ellipse cx="1.45" cy="-.4" rx="1.8" ry="1.3" transform="rotate(22)" fill="#25240d"/><rect x="-.6" y="-2.5" width="1.2" height="5.4" fill="#b5aa24"/><circle cy="-.8" r=".65" fill="#d8cc2e"/></g><g transform="translate(798.4 232.8) rotate(-25)"><ellipse rx="3.2" ry="2.5" fill="#5a5616" opacity=".4"/><ellipse cx="-1.45" cy="-.4" rx="1.8" ry="1.3" transform="rotate(-22)" fill="#25240d"/><ellipse cx="1.45" cy="-.4" rx="1.8" ry="1.3" transform="rotate(22)" fill="#25240d"/><rect x="-.6" y="-2.5" width="1.2" height="5.4" fill="#b5aa24"/><circle cy="-.8" r=".65" fill="#d8cc2e"/></g><g transform="translate(793.2 214.5) rotate(-26)"><ellipse rx="3.2" ry="2.5" fill="#5a5616" opacity=".4"/><ellipse cx="-1.45" cy="-.4" rx="1.8" ry="1.3" transform="rotate(-22)" fill="#25240d"/><ellipse cx="1.45" cy="-.4" rx="1.8" ry="1.3" transform="rotate(22)" fill="#25240d"/><rect x="-.6" y="-2.5" width="1.2" height="5.4" fill="#b5aa24"/><circle cy="-.8" r=".65" fill="#d8cc2e"/></g><g transform="translate(795.1 217.3) rotate(15)"><ellipse rx="3.2" ry="2.5" fill="#5a5616" opacity=".4"/><ellipse cx="-1.45" cy="-.4" rx="1.8" ry="1.3" transform="rotate(-22)" fill="#25240d"/><ellipse cx="1.45" cy="-.4" rx="1.8" ry="1.3" transform="rotate(22)" fill="#25240d"/><rect x="-.6" y="-2.5" width="1.2" height="5.4" fill="#b5aa24"/><circle cy="-.8" r=".65" fill="#d8cc2e"/></g><g transform="translate(798.9 215.9) rotate(-19)"><ellipse rx="3.2" ry="2.5" fill="#5a5616" opacity=".4"/><ellipse cx="-1.45" cy="-.4" rx="1.8" ry="1.3" transform="rotate(-22)" fill="#25240d"/><ellipse cx="1.45" cy="-.4" rx="1.8" ry="1.3" transform="rotate(22)" fill="#25240d"/><rect x="-.6" y="-2.5" width="1.2" height="5.4" fill="#b5aa24"/><circle cy="-.8" r=".65" fill="#d8cc2e"/></g><g transform="translate(805.1 216.3) rotate(-35)"><ellipse rx="3.2" ry="2.5" fill="#5a5616" opacity=".4"/><ellipse cx="-1.45" cy="-.4" rx="1.8" ry="1.3" transform="rotate(-22)" fill="#25240d"/><ellipse cx="1.45" cy="-.4" rx="1.8" ry="1.3" transform="rotate(22)" fill="#25240d"/><rect x="-.6" y="-2.5" width="1.2" height="5.4" fill="#b5aa24"/><circle cy="-.8" r=".65" fill="#d8cc2e"/></g><g transform="translate(793.2 221.1) rotate(-9)"><ellipse rx="3.2" ry="2.5" fill="#5a5616" opacity=".4"/><ellipse cx="-1.45" cy="-.4" rx="1.8" ry="1.3" transform="rotate(-22)" fill="#25240d"/><ellipse cx="1.45" cy="-.4" rx="1.8" ry="1.3" transform="rotate(22)" fill="#25240d"/><rect x="-.6" y="-2.5" width="1.2" height="5.4" fill="#b5aa24"/><circle cy="-.8" r=".65" fill="#d8cc2e"/></g><g transform="translate(791.8 224.4) rotate(-23)"><ellipse rx="3.2" ry="2.5" fill="#5a5616" opacity=".4"/><ellipse cx="-1.45" cy="-.4" rx="1.8" ry="1.3" transform="rotate(-22)" fill="#25240d"/><ellipse cx="1.45" cy="-.4" rx="1.8" ry="1.3" transform="rotate(22)" fill="#25240d"/><rect x="-.6" y="-2.5" width="1.2" height="5.4" fill="#b5aa24"/><circle cy="-.8" r=".65" fill="#d8cc2e"/></g><g transform="translate(797.5 223.0) rotate(9)"><ellipse rx="3.2" ry="2.5" fill="#5a5616" opacity=".4"/><ellipse cx="-1.45" cy="-.4" rx="1.8" ry="1.3" transform="rotate(-22)" fill="#25240d"/><ellipse cx="1.45" cy="-.4" rx="1.8" ry="1.3" transform="rotate(22)" fill="#25240d"/><rect x="-.6" y="-2.5" width="1.2" height="5.4" fill="#b5aa24"/><circle cy="-.8" r=".65" fill="#d8cc2e"/></g><g transform="translate(798.9 226.3) rotate(4)"><ellipse rx="3.2" ry="2.5" fill="#5a5616" opacity=".4"/><ellipse cx="-1.45" cy="-.4" rx="1.8" ry="1.3" transform="rotate(-22)" fill="#25240d"/><ellipse cx="1.45" cy="-.4" rx="1.8" ry="1.3" transform="rotate(22)" fill="#25240d"/><rect x="-.6" y="-2.5" width="1.2" height="5.4" fill="#b5aa24"/><circle cy="-.8" r=".65" fill="#d8cc2e"/></g><g transform="translate(803.2 226.7) rotate(20)"><ellipse rx="3.2" ry="2.5" fill="#5a5616" opacity=".4"/><ellipse cx="-1.45" cy="-.4" rx="1.8" ry="1.3" transform="rotate(-22)" fill="#25240d"/><ellipse cx="1.45" cy="-.4" rx="1.8" ry="1.3" transform="rotate(22)" fill="#25240d"/><rect x="-.6" y="-2.5" width="1.2" height="5.4" fill="#b5aa24"/><circle cy="-.8" r=".65" fill="#d8cc2e"/></g><g transform="translate(798.0 233.4) rotate(8)"><ellipse rx="3.2" ry="2.5" fill="#5a5616" opacity=".4"/><ellipse cx="-1.45" cy="-.4" rx="1.8" ry="1.3" transform="rotate(-22)" fill="#25240d"/><ellipse cx="1.45" cy="-.4" rx="1.8" ry="1.3" transform="rotate(22)" fill="#25240d"/><rect x="-.6" y="-2.5" width="1.2" height="5.4" fill="#b5aa24"/><circle cy="-.8" r=".65" fill="#d8cc2e"/></g><g transform="translate(792.8 241.9) rotate(-30)"><ellipse rx="3.2" ry="2.5" fill="#5a5616" opacity=".4"/><ellipse cx="-1.45" cy="-.4" rx="1.8" ry="1.3" transform="rotate(-22)" fill="#25240d"/><ellipse cx="1.45" cy="-.4" rx="1.8" ry="1.3" transform="rotate(22)" fill="#25240d"/><rect x="-.6" y="-2.5" width="1.2" height="5.4" fill="#b5aa24"/><circle cy="-.8" r=".65" fill="#d8cc2e"/></g>
</svg>
</body></html>
